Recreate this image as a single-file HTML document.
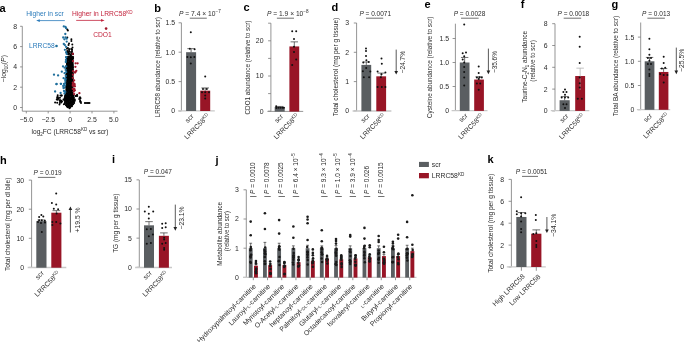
<!DOCTYPE html>
<html><head><meta charset="utf-8"><style>
html,body{margin:0;padding:0;background:#fff;}
svg{display:block;font-family:"Liberation Sans", sans-serif;will-change:transform;}
</style></head><body>
<svg width="685" height="342" viewBox="0 0 685 342" xmlns="http://www.w3.org/2000/svg">
<rect width="685" height="342" fill="#fff"/>
<text x="-0.6" y="11.8" font-size="11" text-anchor="start" fill="#000" font-weight="bold">a</text>
<text x="26.2" y="15.9" font-size="6.7" text-anchor="start" fill="#2b7bba">Higher in scr</text>
<line x1="64.8" y1="20.6" x2="38.36" y2="20.6" stroke="#2b7bba" stroke-width="0.8"/>
<path d="M39.8 19.25 L39.8 21.95 L36.2 20.6 Z" fill="#2b7bba"/>
<text x="71.9" y="16.2" font-size="6.7" text-anchor="start" fill="#c3243d">Higher in LRRC58<tspan font-size="4.6" dy="-2.6">KD</tspan></text>
<line x1="76.2" y1="20.4" x2="102.44" y2="20.4" stroke="#c3243d" stroke-width="0.8"/>
<path d="M101 19.05 L101 21.75 L104.6 20.4 Z" fill="#c3243d"/>
<line x1="22.3" y1="26.3" x2="22.3" y2="111.2" stroke="#7a7a7a" stroke-width="0.8"/>
<line x1="20.1" y1="107.5" x2="22.3" y2="107.5" stroke="#7a7a7a" stroke-width="0.8"/>
<text x="17.1" y="109.98" font-size="6.9" text-anchor="end" fill="#2b2b2b">0</text>
<line x1="20.1" y1="87.2" x2="22.3" y2="87.2" stroke="#7a7a7a" stroke-width="0.8"/>
<text x="17.1" y="89.68" font-size="6.9" text-anchor="end" fill="#2b2b2b">2</text>
<line x1="20.1" y1="66.9" x2="22.3" y2="66.9" stroke="#7a7a7a" stroke-width="0.8"/>
<text x="17.1" y="69.38" font-size="6.9" text-anchor="end" fill="#2b2b2b">4</text>
<line x1="20.1" y1="46.6" x2="22.3" y2="46.6" stroke="#7a7a7a" stroke-width="0.8"/>
<text x="17.1" y="49.08" font-size="6.9" text-anchor="end" fill="#2b2b2b">6</text>
<line x1="20.1" y1="26.3" x2="22.3" y2="26.3" stroke="#7a7a7a" stroke-width="0.8"/>
<text x="17.1" y="28.78" font-size="6.9" text-anchor="end" fill="#2b2b2b">8</text>
<line x1="22.3" y1="111.2" x2="117.5" y2="111.2" stroke="#7a7a7a" stroke-width="0.8"/>
<line x1="26.3" y1="111.2" x2="26.3" y2="113.4" stroke="#7a7a7a" stroke-width="0.8"/>
<text x="26.3" y="122.3" font-size="6.9" text-anchor="middle" fill="#2b2b2b">−5.0</text>
<line x1="48.2" y1="111.2" x2="48.2" y2="113.4" stroke="#7a7a7a" stroke-width="0.8"/>
<text x="48.2" y="122.3" font-size="6.9" text-anchor="middle" fill="#2b2b2b">−2.5</text>
<line x1="70.1" y1="111.2" x2="70.1" y2="113.4" stroke="#7a7a7a" stroke-width="0.8"/>
<text x="70.1" y="122.3" font-size="6.9" text-anchor="middle" fill="#2b2b2b">0</text>
<line x1="92" y1="111.2" x2="92" y2="113.4" stroke="#7a7a7a" stroke-width="0.8"/>
<text x="92" y="122.3" font-size="6.9" text-anchor="middle" fill="#2b2b2b">2.5</text>
<line x1="113.9" y1="111.2" x2="113.9" y2="113.4" stroke="#7a7a7a" stroke-width="0.8"/>
<text x="113.9" y="122.3" font-size="6.9" text-anchor="middle" fill="#2b2b2b">5.0</text>
<text x="70" y="134" font-size="6.6" text-anchor="middle" fill="#2b2b2b">log<tspan font-size="4.5" dy="1.6">2</tspan><tspan dy="-1.6">FC (LRRC58</tspan><tspan font-size="4.5" dy="-2.6">KD</tspan><tspan dy="2.6"> vs scr)</tspan></text>
<text x="6.2" y="68.7" font-size="6.9" text-anchor="middle" fill="#2b2b2b" transform="rotate(-90 6.2 68.7)">−log<tspan font-size="4.5" dy="1.6">10</tspan><tspan dy="-1.6">(</tspan><tspan font-style="italic">P</tspan>)</text>
<circle cx="66.99" cy="48.74" r="1" fill="#000"/>
<circle cx="69.07" cy="48.93" r="1" fill="#000"/>
<circle cx="71.19" cy="49.03" r="1" fill="#000"/>
<circle cx="69.14" cy="50.02" r="1" fill="#000"/>
<circle cx="72" cy="49.94" r="1" fill="#000"/>
<circle cx="67.12" cy="51.25" r="1" fill="#000"/>
<circle cx="67.83" cy="51.15" r="1" fill="#000"/>
<circle cx="69.17" cy="51.47" r="1" fill="#000"/>
<circle cx="68.31" cy="52.47" r="1" fill="#000"/>
<circle cx="71.01" cy="52.06" r="1" fill="#000"/>
<circle cx="66.75" cy="53.23" r="1" fill="#000"/>
<circle cx="67.91" cy="53.13" r="1" fill="#000"/>
<circle cx="68.8" cy="53.16" r="1" fill="#000"/>
<circle cx="69.72" cy="53.62" r="1" fill="#000"/>
<circle cx="71.86" cy="53.31" r="1" fill="#000"/>
<circle cx="72.78" cy="53.61" r="1" fill="#000"/>
<circle cx="67.93" cy="54.25" r="1" fill="#000"/>
<circle cx="68.85" cy="54.36" r="1" fill="#000"/>
<circle cx="70.66" cy="54.77" r="1" fill="#000"/>
<circle cx="72.97" cy="54.22" r="1" fill="#000"/>
<circle cx="70.8" cy="55.4" r="1" fill="#000"/>
<circle cx="66.65" cy="56.89" r="1" fill="#000"/>
<circle cx="68.03" cy="56.88" r="1" fill="#000"/>
<circle cx="68.96" cy="56.54" r="1" fill="#000"/>
<circle cx="69.73" cy="56.42" r="1" fill="#000"/>
<circle cx="70.68" cy="56.56" r="1" fill="#000"/>
<circle cx="72.09" cy="56.67" r="1" fill="#000"/>
<circle cx="73.11" cy="56.97" r="1" fill="#000"/>
<circle cx="66.63" cy="57.62" r="1" fill="#000"/>
<circle cx="67.87" cy="58.04" r="1" fill="#000"/>
<circle cx="68.78" cy="57.89" r="1" fill="#000"/>
<circle cx="69.54" cy="57.9" r="1" fill="#000"/>
<circle cx="70.96" cy="57.95" r="1" fill="#000"/>
<circle cx="71.6" cy="57.97" r="1" fill="#000"/>
<circle cx="72.97" cy="58.08" r="1" fill="#000"/>
<circle cx="67.05" cy="59.03" r="1" fill="#000"/>
<circle cx="67.56" cy="58.69" r="1" fill="#000"/>
<circle cx="68.97" cy="58.69" r="1" fill="#000"/>
<circle cx="70.07" cy="58.99" r="1" fill="#000"/>
<circle cx="70.81" cy="58.68" r="1" fill="#000"/>
<circle cx="72.07" cy="58.99" r="1" fill="#000"/>
<circle cx="73.05" cy="58.86" r="1" fill="#000"/>
<circle cx="66.6" cy="59.85" r="1" fill="#000"/>
<circle cx="67.62" cy="60.05" r="1" fill="#000"/>
<circle cx="68.73" cy="59.78" r="1" fill="#000"/>
<circle cx="69.69" cy="59.97" r="1" fill="#000"/>
<circle cx="71.02" cy="59.95" r="1" fill="#000"/>
<circle cx="71.78" cy="60.02" r="1" fill="#000"/>
<circle cx="72.49" cy="59.96" r="1" fill="#000"/>
<circle cx="66.75" cy="61.24" r="1" fill="#000"/>
<circle cx="67.66" cy="61.11" r="1" fill="#000"/>
<circle cx="68.94" cy="60.86" r="1" fill="#000"/>
<circle cx="69.62" cy="60.97" r="1" fill="#000"/>
<circle cx="70.77" cy="61.14" r="1" fill="#000"/>
<circle cx="72.02" cy="61.07" r="1" fill="#000"/>
<circle cx="72.77" cy="61.11" r="1" fill="#000"/>
<circle cx="66.75" cy="62.46" r="1" fill="#000"/>
<circle cx="67.99" cy="62.47" r="1" fill="#000"/>
<circle cx="68.8" cy="62.47" r="1" fill="#000"/>
<circle cx="69.54" cy="61.97" r="1" fill="#000"/>
<circle cx="70.5" cy="62.04" r="1" fill="#000"/>
<circle cx="71.86" cy="62.37" r="1" fill="#000"/>
<circle cx="72.55" cy="62.33" r="1" fill="#000"/>
<circle cx="67.03" cy="63.13" r="1" fill="#000"/>
<circle cx="67.69" cy="63.29" r="1" fill="#000"/>
<circle cx="68.95" cy="63.1" r="1" fill="#000"/>
<circle cx="69.76" cy="63.2" r="1" fill="#000"/>
<circle cx="70.64" cy="63.43" r="1" fill="#000"/>
<circle cx="71.78" cy="63.26" r="1" fill="#000"/>
<circle cx="72.65" cy="63.37" r="1" fill="#000"/>
<circle cx="67.03" cy="64.16" r="1" fill="#000"/>
<circle cx="67.47" cy="64.57" r="1" fill="#000"/>
<circle cx="68.52" cy="64.35" r="1" fill="#000"/>
<circle cx="69.93" cy="64.26" r="1" fill="#000"/>
<circle cx="70.99" cy="64.44" r="1" fill="#000"/>
<circle cx="71.5" cy="64.13" r="1" fill="#000"/>
<circle cx="72.7" cy="64.14" r="1" fill="#000"/>
<circle cx="66.48" cy="65.71" r="1" fill="#000"/>
<circle cx="67.95" cy="65.47" r="1" fill="#000"/>
<circle cx="68.77" cy="65.76" r="1" fill="#000"/>
<circle cx="69.51" cy="65.52" r="1" fill="#000"/>
<circle cx="70.5" cy="65.3" r="1" fill="#000"/>
<circle cx="71.56" cy="65.39" r="1" fill="#000"/>
<circle cx="72.89" cy="65.37" r="1" fill="#000"/>
<circle cx="66.44" cy="66.45" r="1" fill="#000"/>
<circle cx="67.87" cy="66.63" r="1" fill="#000"/>
<circle cx="68.71" cy="66.86" r="1" fill="#000"/>
<circle cx="69.92" cy="66.56" r="1" fill="#000"/>
<circle cx="70.93" cy="66.54" r="1" fill="#000"/>
<circle cx="71.84" cy="66.89" r="1" fill="#000"/>
<circle cx="72.93" cy="66.72" r="1" fill="#000"/>
<circle cx="66.45" cy="67.48" r="1" fill="#000"/>
<circle cx="67.86" cy="67.55" r="1" fill="#000"/>
<circle cx="68.47" cy="67.9" r="1" fill="#000"/>
<circle cx="69.82" cy="67.57" r="1" fill="#000"/>
<circle cx="70.59" cy="67.68" r="1" fill="#000"/>
<circle cx="71.69" cy="67.56" r="1" fill="#000"/>
<circle cx="73" cy="67.73" r="1" fill="#000"/>
<circle cx="66.41" cy="68.73" r="1" fill="#000"/>
<circle cx="67.71" cy="68.62" r="1" fill="#000"/>
<circle cx="68.41" cy="68.66" r="1" fill="#000"/>
<circle cx="69.65" cy="68.53" r="1" fill="#000"/>
<circle cx="70.59" cy="68.64" r="1" fill="#000"/>
<circle cx="71.73" cy="68.95" r="1" fill="#000"/>
<circle cx="72.84" cy="69.03" r="1" fill="#000"/>
<circle cx="66.49" cy="70.03" r="1" fill="#000"/>
<circle cx="67.43" cy="70.1" r="1" fill="#000"/>
<circle cx="68.78" cy="70.04" r="1" fill="#000"/>
<circle cx="69.48" cy="69.91" r="1" fill="#000"/>
<circle cx="70.9" cy="70.08" r="1" fill="#000"/>
<circle cx="71.75" cy="70.14" r="1" fill="#000"/>
<circle cx="72.82" cy="69.74" r="1" fill="#000"/>
<circle cx="66.89" cy="71.04" r="1" fill="#000"/>
<circle cx="67.76" cy="71.11" r="1" fill="#000"/>
<circle cx="68.39" cy="71.18" r="1" fill="#000"/>
<circle cx="69.69" cy="71.02" r="1" fill="#000"/>
<circle cx="70.43" cy="71.14" r="1" fill="#000"/>
<circle cx="71.43" cy="70.86" r="1" fill="#000"/>
<circle cx="72.51" cy="71.14" r="1" fill="#000"/>
<circle cx="66.66" cy="72.21" r="1" fill="#000"/>
<circle cx="67.74" cy="72.19" r="1" fill="#000"/>
<circle cx="68.46" cy="71.95" r="1" fill="#000"/>
<circle cx="69.55" cy="72.14" r="1" fill="#000"/>
<circle cx="70.41" cy="71.96" r="1" fill="#000"/>
<circle cx="71.79" cy="72.21" r="1" fill="#000"/>
<circle cx="72.68" cy="72.08" r="1" fill="#000"/>
<circle cx="66.94" cy="73.46" r="1" fill="#000"/>
<circle cx="67.63" cy="73.39" r="1" fill="#000"/>
<circle cx="68.63" cy="73.06" r="1" fill="#000"/>
<circle cx="69.92" cy="73.03" r="1" fill="#000"/>
<circle cx="70.44" cy="73.21" r="1" fill="#000"/>
<circle cx="71.44" cy="73.39" r="1" fill="#000"/>
<circle cx="72.89" cy="73.32" r="1" fill="#000"/>
<circle cx="66.34" cy="74.3" r="1" fill="#000"/>
<circle cx="67.52" cy="74.08" r="1" fill="#000"/>
<circle cx="68.53" cy="74.5" r="1" fill="#000"/>
<circle cx="69.79" cy="74.5" r="1" fill="#000"/>
<circle cx="70.9" cy="74.43" r="1" fill="#000"/>
<circle cx="71.52" cy="74.22" r="1" fill="#000"/>
<circle cx="72.94" cy="74.35" r="1" fill="#000"/>
<circle cx="66.36" cy="75.16" r="1" fill="#000"/>
<circle cx="67.5" cy="75.66" r="1" fill="#000"/>
<circle cx="68.49" cy="75.41" r="1" fill="#000"/>
<circle cx="69.55" cy="75.67" r="1" fill="#000"/>
<circle cx="70.82" cy="75.48" r="1" fill="#000"/>
<circle cx="71.89" cy="75.43" r="1" fill="#000"/>
<circle cx="72.36" cy="75.54" r="1" fill="#000"/>
<circle cx="66.49" cy="76.23" r="1" fill="#000"/>
<circle cx="67.39" cy="76.48" r="1" fill="#000"/>
<circle cx="68.49" cy="76.64" r="1" fill="#000"/>
<circle cx="69.47" cy="76.59" r="1" fill="#000"/>
<circle cx="70.65" cy="76.44" r="1" fill="#000"/>
<circle cx="71.41" cy="76.32" r="1" fill="#000"/>
<circle cx="72.61" cy="76.33" r="1" fill="#000"/>
<circle cx="66.38" cy="77.42" r="1" fill="#000"/>
<circle cx="67.5" cy="77.35" r="1" fill="#000"/>
<circle cx="68.45" cy="77.64" r="1" fill="#000"/>
<circle cx="69.75" cy="77.55" r="1" fill="#000"/>
<circle cx="70.61" cy="77.53" r="1" fill="#000"/>
<circle cx="71.34" cy="77.47" r="1" fill="#000"/>
<circle cx="72.37" cy="77.6" r="1" fill="#000"/>
<circle cx="66.45" cy="78.55" r="1" fill="#000"/>
<circle cx="67.55" cy="78.97" r="1" fill="#000"/>
<circle cx="68.81" cy="78.41" r="1" fill="#000"/>
<circle cx="69.71" cy="78.94" r="1" fill="#000"/>
<circle cx="70.64" cy="78.4" r="1" fill="#000"/>
<circle cx="71.84" cy="78.9" r="1" fill="#000"/>
<circle cx="72.87" cy="78.55" r="1" fill="#000"/>
<circle cx="66.83" cy="79.93" r="1" fill="#000"/>
<circle cx="67.73" cy="79.77" r="1" fill="#000"/>
<circle cx="68.29" cy="79.97" r="1" fill="#000"/>
<circle cx="69.82" cy="79.89" r="1" fill="#000"/>
<circle cx="70.35" cy="79.65" r="1" fill="#000"/>
<circle cx="71.69" cy="79.57" r="1" fill="#000"/>
<circle cx="72.58" cy="79.85" r="1" fill="#000"/>
<circle cx="66.26" cy="80.78" r="1" fill="#000"/>
<circle cx="67.83" cy="80.99" r="1" fill="#000"/>
<circle cx="68.54" cy="80.74" r="1" fill="#000"/>
<circle cx="69.83" cy="81.02" r="1" fill="#000"/>
<circle cx="70.27" cy="80.9" r="1" fill="#000"/>
<circle cx="71.51" cy="80.75" r="1" fill="#000"/>
<circle cx="72.81" cy="80.74" r="1" fill="#000"/>
<circle cx="66.36" cy="82.18" r="1" fill="#000"/>
<circle cx="67.54" cy="81.82" r="1" fill="#000"/>
<circle cx="68.43" cy="82.19" r="1" fill="#000"/>
<circle cx="69.37" cy="82.16" r="1" fill="#000"/>
<circle cx="70.81" cy="82" r="1" fill="#000"/>
<circle cx="71.37" cy="81.95" r="1" fill="#000"/>
<circle cx="72.81" cy="81.79" r="1" fill="#000"/>
<circle cx="66.31" cy="82.83" r="1" fill="#000"/>
<circle cx="67.46" cy="83.34" r="1" fill="#000"/>
<circle cx="68.66" cy="83.4" r="1" fill="#000"/>
<circle cx="69.42" cy="82.91" r="1" fill="#000"/>
<circle cx="70.67" cy="82.82" r="1" fill="#000"/>
<circle cx="71.45" cy="83.02" r="1" fill="#000"/>
<circle cx="72.33" cy="82.8" r="1" fill="#000"/>
<circle cx="66.79" cy="84.02" r="1" fill="#000"/>
<circle cx="67.7" cy="84.39" r="1" fill="#000"/>
<circle cx="68.24" cy="84.18" r="1" fill="#000"/>
<circle cx="69.76" cy="84.02" r="1" fill="#000"/>
<circle cx="70.75" cy="83.92" r="1" fill="#000"/>
<circle cx="71.7" cy="84.36" r="1" fill="#000"/>
<circle cx="72.23" cy="83.94" r="1" fill="#000"/>
<circle cx="66.73" cy="85.2" r="1" fill="#000"/>
<circle cx="67.76" cy="85.37" r="1" fill="#000"/>
<circle cx="68.62" cy="85.19" r="1" fill="#000"/>
<circle cx="69.19" cy="85.45" r="1" fill="#000"/>
<circle cx="70.57" cy="85.57" r="1" fill="#000"/>
<circle cx="71.33" cy="85.29" r="1" fill="#000"/>
<circle cx="72.76" cy="85.23" r="1" fill="#000"/>
<circle cx="66.26" cy="86.58" r="1" fill="#000"/>
<circle cx="67.64" cy="86.56" r="1" fill="#000"/>
<circle cx="68.34" cy="86.29" r="1" fill="#000"/>
<circle cx="69.62" cy="86.15" r="1" fill="#000"/>
<circle cx="70.6" cy="86.25" r="1" fill="#000"/>
<circle cx="71.17" cy="86.43" r="1" fill="#000"/>
<circle cx="72.74" cy="86.63" r="1" fill="#000"/>
<circle cx="66.16" cy="87.5" r="1" fill="#000"/>
<circle cx="67.37" cy="87.34" r="1" fill="#000"/>
<circle cx="68.48" cy="87.6" r="1" fill="#000"/>
<circle cx="69.61" cy="87.6" r="1" fill="#000"/>
<circle cx="70.61" cy="87.38" r="1" fill="#000"/>
<circle cx="71.33" cy="87.64" r="1" fill="#000"/>
<circle cx="72.25" cy="87.35" r="1" fill="#000"/>
<circle cx="66.3" cy="88.9" r="1" fill="#000"/>
<circle cx="67.2" cy="88.79" r="1" fill="#000"/>
<circle cx="68.66" cy="88.36" r="1" fill="#000"/>
<circle cx="69.56" cy="88.8" r="1" fill="#000"/>
<circle cx="70.09" cy="88.48" r="1" fill="#000"/>
<circle cx="71.18" cy="88.88" r="1" fill="#000"/>
<circle cx="72.62" cy="88.52" r="1" fill="#000"/>
<circle cx="66.49" cy="89.97" r="1" fill="#000"/>
<circle cx="67.38" cy="89.77" r="1" fill="#000"/>
<circle cx="68.24" cy="89.48" r="1" fill="#000"/>
<circle cx="69.18" cy="89.76" r="1" fill="#000"/>
<circle cx="70.15" cy="89.41" r="1" fill="#000"/>
<circle cx="71.43" cy="89.51" r="1" fill="#000"/>
<circle cx="72.15" cy="89.88" r="1" fill="#000"/>
<circle cx="66.31" cy="90.88" r="1" fill="#000"/>
<circle cx="67.08" cy="90.92" r="1" fill="#000"/>
<circle cx="68.15" cy="90.68" r="1" fill="#000"/>
<circle cx="69.17" cy="90.84" r="1" fill="#000"/>
<circle cx="70.23" cy="91.02" r="1" fill="#000"/>
<circle cx="71.2" cy="90.62" r="1" fill="#000"/>
<circle cx="72.1" cy="90.5" r="1" fill="#000"/>
<circle cx="66.18" cy="92.13" r="1" fill="#000"/>
<circle cx="67.04" cy="91.61" r="1" fill="#000"/>
<circle cx="68.33" cy="92.15" r="1" fill="#000"/>
<circle cx="69.31" cy="91.82" r="1" fill="#000"/>
<circle cx="70.03" cy="91.77" r="1" fill="#000"/>
<circle cx="71.5" cy="91.67" r="1" fill="#000"/>
<circle cx="72.42" cy="92.18" r="1" fill="#000"/>
<circle cx="66.19" cy="92.73" r="1" fill="#000"/>
<circle cx="67.13" cy="93.24" r="1" fill="#000"/>
<circle cx="68.39" cy="92.8" r="1" fill="#000"/>
<circle cx="69.03" cy="92.94" r="1" fill="#000"/>
<circle cx="70.4" cy="92.81" r="1" fill="#000"/>
<circle cx="71.14" cy="93.01" r="1" fill="#000"/>
<circle cx="71.97" cy="92.85" r="1" fill="#000"/>
<circle cx="65.83" cy="94.25" r="1" fill="#000"/>
<circle cx="67" cy="93.87" r="1" fill="#000"/>
<circle cx="67.83" cy="94.18" r="1" fill="#000"/>
<circle cx="68.75" cy="94.15" r="1" fill="#000"/>
<circle cx="69.89" cy="94.07" r="1" fill="#000"/>
<circle cx="70.51" cy="94.17" r="1" fill="#000"/>
<circle cx="71.64" cy="94.26" r="1" fill="#000"/>
<circle cx="72.77" cy="93.91" r="1" fill="#000"/>
<circle cx="65.15" cy="95.17" r="1" fill="#000"/>
<circle cx="66.12" cy="95.28" r="1" fill="#000"/>
<circle cx="67.53" cy="95.37" r="1" fill="#000"/>
<circle cx="68.13" cy="95.2" r="1" fill="#000"/>
<circle cx="69.66" cy="94.98" r="1" fill="#000"/>
<circle cx="70.69" cy="95.34" r="1" fill="#000"/>
<circle cx="71.21" cy="95.49" r="1" fill="#000"/>
<circle cx="72.67" cy="95.45" r="1" fill="#000"/>
<circle cx="73.57" cy="95.46" r="1" fill="#000"/>
<circle cx="64.97" cy="96.45" r="1" fill="#000"/>
<circle cx="66.3" cy="96.16" r="1" fill="#000"/>
<circle cx="66.85" cy="96.3" r="1" fill="#000"/>
<circle cx="67.89" cy="96.16" r="1" fill="#000"/>
<circle cx="68.95" cy="96.02" r="1" fill="#000"/>
<circle cx="69.86" cy="96.56" r="1" fill="#000"/>
<circle cx="71.3" cy="96.1" r="1" fill="#000"/>
<circle cx="71.83" cy="96.32" r="1" fill="#000"/>
<circle cx="72.98" cy="96.52" r="1" fill="#000"/>
<circle cx="64.97" cy="97.63" r="1" fill="#000"/>
<circle cx="66.22" cy="97.48" r="1" fill="#000"/>
<circle cx="67.1" cy="97.26" r="1" fill="#000"/>
<circle cx="67.97" cy="97.32" r="1" fill="#000"/>
<circle cx="68.89" cy="97.21" r="1" fill="#000"/>
<circle cx="69.65" cy="97.59" r="1" fill="#000"/>
<circle cx="71.01" cy="97.69" r="1" fill="#000"/>
<circle cx="72.02" cy="97.29" r="1" fill="#000"/>
<circle cx="72.65" cy="97.19" r="1" fill="#000"/>
<circle cx="73.88" cy="97.41" r="1" fill="#000"/>
<circle cx="64.57" cy="98.34" r="1" fill="#000"/>
<circle cx="65.5" cy="98.2" r="1" fill="#000"/>
<circle cx="66.55" cy="98.41" r="1" fill="#000"/>
<circle cx="67.84" cy="98.55" r="1" fill="#000"/>
<circle cx="68.86" cy="98.48" r="1" fill="#000"/>
<circle cx="70.05" cy="98.35" r="1" fill="#000"/>
<circle cx="70.54" cy="98.58" r="1" fill="#000"/>
<circle cx="71.96" cy="98.44" r="1" fill="#000"/>
<circle cx="72.49" cy="98.59" r="1" fill="#000"/>
<circle cx="73.7" cy="98.59" r="1" fill="#000"/>
<circle cx="64.91" cy="99.74" r="1" fill="#000"/>
<circle cx="65.89" cy="99.33" r="1" fill="#000"/>
<circle cx="66.59" cy="99.44" r="1" fill="#000"/>
<circle cx="67.82" cy="99.31" r="1" fill="#000"/>
<circle cx="68.91" cy="99.39" r="1" fill="#000"/>
<circle cx="69.71" cy="99.6" r="1" fill="#000"/>
<circle cx="70.84" cy="99.4" r="1" fill="#000"/>
<circle cx="71.53" cy="99.33" r="1" fill="#000"/>
<circle cx="72.82" cy="99.73" r="1" fill="#000"/>
<circle cx="73.86" cy="99.75" r="1" fill="#000"/>
<circle cx="74.8" cy="99.57" r="1" fill="#000"/>
<circle cx="64.49" cy="100.54" r="1" fill="#000"/>
<circle cx="65.62" cy="100.85" r="1" fill="#000"/>
<circle cx="66.93" cy="100.83" r="1" fill="#000"/>
<circle cx="67.75" cy="100.66" r="1" fill="#000"/>
<circle cx="68.74" cy="100.56" r="1" fill="#000"/>
<circle cx="70" cy="100.53" r="1" fill="#000"/>
<circle cx="70.43" cy="100.56" r="1" fill="#000"/>
<circle cx="71.87" cy="100.97" r="1" fill="#000"/>
<circle cx="72.62" cy="100.93" r="1" fill="#000"/>
<circle cx="73.57" cy="100.94" r="1" fill="#000"/>
<circle cx="74.84" cy="100.8" r="1" fill="#000"/>
<circle cx="64.9" cy="102" r="1" fill="#000"/>
<circle cx="66.13" cy="101.76" r="1" fill="#000"/>
<circle cx="66.96" cy="101.68" r="1" fill="#000"/>
<circle cx="67.99" cy="101.55" r="1" fill="#000"/>
<circle cx="68.7" cy="101.52" r="1" fill="#000"/>
<circle cx="70.17" cy="101.71" r="1" fill="#000"/>
<circle cx="70.63" cy="101.52" r="1" fill="#000"/>
<circle cx="72" cy="101.92" r="1" fill="#000"/>
<circle cx="72.65" cy="101.85" r="1" fill="#000"/>
<circle cx="74.11" cy="101.99" r="1" fill="#000"/>
<circle cx="64.85" cy="103.12" r="1" fill="#000"/>
<circle cx="66.37" cy="102.66" r="1" fill="#000"/>
<circle cx="66.87" cy="102.62" r="1" fill="#000"/>
<circle cx="68.29" cy="102.98" r="1" fill="#000"/>
<circle cx="69.19" cy="102.77" r="1" fill="#000"/>
<circle cx="69.87" cy="103.05" r="1" fill="#000"/>
<circle cx="71" cy="102.85" r="1" fill="#000"/>
<circle cx="71.96" cy="102.77" r="1" fill="#000"/>
<circle cx="73.03" cy="102.79" r="1" fill="#000"/>
<circle cx="74.11" cy="103.11" r="1" fill="#000"/>
<circle cx="65.02" cy="103.95" r="1" fill="#000"/>
<circle cx="66.46" cy="103.91" r="1" fill="#000"/>
<circle cx="67.32" cy="103.83" r="1" fill="#000"/>
<circle cx="68.05" cy="104.19" r="1" fill="#000"/>
<circle cx="69" cy="103.82" r="1" fill="#000"/>
<circle cx="70.59" cy="103.7" r="1" fill="#000"/>
<circle cx="71.29" cy="104.18" r="1" fill="#000"/>
<circle cx="72.3" cy="103.91" r="1" fill="#000"/>
<circle cx="73.16" cy="104.27" r="1" fill="#000"/>
<circle cx="65.97" cy="105.22" r="1" fill="#000"/>
<circle cx="66.91" cy="105.18" r="1" fill="#000"/>
<circle cx="68.32" cy="105.22" r="1" fill="#000"/>
<circle cx="69.22" cy="105.01" r="1" fill="#000"/>
<circle cx="70.08" cy="105.33" r="1" fill="#000"/>
<circle cx="71.38" cy="104.82" r="1" fill="#000"/>
<circle cx="72" cy="105.34" r="1" fill="#000"/>
<circle cx="66.91" cy="106.43" r="1" fill="#000"/>
<circle cx="67.96" cy="106.22" r="1" fill="#000"/>
<circle cx="69.14" cy="106.29" r="1" fill="#000"/>
<circle cx="69.88" cy="105.99" r="1" fill="#000"/>
<circle cx="71.08" cy="106.35" r="1" fill="#000"/>
<circle cx="71.95" cy="106.36" r="1" fill="#000"/>
<circle cx="67.82" cy="107.28" r="1" fill="#000"/>
<circle cx="68.88" cy="107.11" r="1" fill="#000"/>
<circle cx="70.16" cy="107.51" r="1" fill="#000"/>
<circle cx="69.45" cy="108.25" r="1" fill="#000"/>
<circle cx="67.3" cy="29.4" r="1" fill="#000"/>
<circle cx="67.9" cy="30.5" r="1" fill="#000"/>
<circle cx="67.3" cy="37.5" r="1" fill="#000"/>
<circle cx="71.4" cy="39.3" r="1" fill="#000"/>
<circle cx="71.4" cy="41" r="1" fill="#000"/>
<circle cx="69" cy="43.4" r="1" fill="#000"/>
<circle cx="72.3" cy="44.6" r="1" fill="#000"/>
<circle cx="68.5" cy="45.1" r="1" fill="#000"/>
<circle cx="72.5" cy="47.5" r="1" fill="#000"/>
<circle cx="67.9" cy="48.1" r="1" fill="#000"/>
<circle cx="72" cy="49.2" r="1" fill="#000"/>
<circle cx="67.3" cy="51.6" r="1" fill="#000"/>
<circle cx="72" cy="51.6" r="1" fill="#000"/>
<circle cx="67.9" cy="53.9" r="1" fill="#000"/>
<circle cx="70.8" cy="55.1" r="1" fill="#000"/>
<circle cx="68.5" cy="57.4" r="1" fill="#000"/>
<circle cx="71.4" cy="57.4" r="1" fill="#000"/>
<circle cx="69.6" cy="58.6" r="1" fill="#000"/>
<circle cx="55.1" cy="102.6" r="1" fill="#000"/>
<circle cx="59.5" cy="104.4" r="1" fill="#000"/>
<circle cx="57.3" cy="96.9" r="1" fill="#000"/>
<circle cx="58.5" cy="98.5" r="1" fill="#000"/>
<circle cx="60" cy="100.5" r="1" fill="#000"/>
<circle cx="76.1" cy="96" r="1" fill="#000"/>
<circle cx="79.2" cy="99.1" r="1" fill="#000"/>
<circle cx="80.1" cy="101.7" r="1" fill="#000"/>
<circle cx="84.9" cy="103" r="1" fill="#000"/>
<circle cx="86" cy="103" r="1" fill="#000"/>
<circle cx="87.2" cy="103" r="1" fill="#000"/>
<circle cx="88.4" cy="103" r="1" fill="#000"/>
<circle cx="89.5" cy="103" r="1" fill="#000"/>
<circle cx="61.5" cy="95.5" r="1" fill="#000"/>
<circle cx="62" cy="101.5" r="1" fill="#000"/>
<circle cx="59.89" cy="100.32" r="1" fill="#000"/>
<circle cx="63.43" cy="99.42" r="1" fill="#000"/>
<circle cx="60.31" cy="100.58" r="1" fill="#000"/>
<circle cx="57.88" cy="99.86" r="1" fill="#000"/>
<circle cx="61.22" cy="102.53" r="1" fill="#000"/>
<circle cx="57.21" cy="97.88" r="1" fill="#000"/>
<circle cx="57.18" cy="102.69" r="1" fill="#000"/>
<circle cx="61.7" cy="95.4" r="1" fill="#000"/>
<circle cx="63.87" cy="104.17" r="1" fill="#000"/>
<circle cx="61.4" cy="100.85" r="1" fill="#000"/>
<circle cx="57.68" cy="95.14" r="1" fill="#000"/>
<circle cx="60.46" cy="95.57" r="1" fill="#000"/>
<circle cx="57.93" cy="97.3" r="1" fill="#000"/>
<circle cx="56.73" cy="99.41" r="1" fill="#000"/>
<circle cx="59.8" cy="103" r="1" fill="#000"/>
<circle cx="60.39" cy="101.08" r="1" fill="#000"/>
<circle cx="60.25" cy="101.29" r="1" fill="#000"/>
<circle cx="59.93" cy="97.64" r="1" fill="#000"/>
<circle cx="80.99" cy="102.96" r="1" fill="#000"/>
<circle cx="80.12" cy="100.37" r="1" fill="#000"/>
<circle cx="77.23" cy="96.07" r="1" fill="#000"/>
<circle cx="77.09" cy="94.63" r="1" fill="#000"/>
<circle cx="79.71" cy="97.6" r="1" fill="#000"/>
<circle cx="80.16" cy="97.48" r="1" fill="#000"/>
<circle cx="80.77" cy="101.63" r="1" fill="#000"/>
<circle cx="75.5" cy="95.89" r="1" fill="#000"/>
<circle cx="80.51" cy="98.23" r="1" fill="#000"/>
<circle cx="65.97" cy="60" r="1.15" fill="#1f6f9c"/>
<circle cx="64.57" cy="67.7" r="1.15" fill="#1f6f9c"/>
<circle cx="65.71" cy="69.9" r="1.15" fill="#1f6f9c"/>
<circle cx="64.6" cy="73.2" r="1.15" fill="#1f6f9c"/>
<circle cx="65.57" cy="78.7" r="1.15" fill="#1f6f9c"/>
<circle cx="65.28" cy="80.9" r="1.15" fill="#1f6f9c"/>
<circle cx="65.23" cy="83.1" r="1.15" fill="#1f6f9c"/>
<circle cx="65.09" cy="85.3" r="1.15" fill="#1f6f9c"/>
<circle cx="64.37" cy="87.5" r="1.15" fill="#1f6f9c"/>
<circle cx="65.26" cy="91.9" r="1.15" fill="#1f6f9c"/>
<circle cx="63.8" cy="26.4" r="1.15" fill="#1f6f9c"/>
<circle cx="65.5" cy="27" r="1.15" fill="#1f6f9c"/>
<circle cx="66.1" cy="28.2" r="1.15" fill="#1f6f9c"/>
<circle cx="65.3" cy="34" r="1.15" fill="#1f6f9c"/>
<circle cx="63.2" cy="37.5" r="1.15" fill="#1f6f9c"/>
<circle cx="65.5" cy="37.5" r="1.15" fill="#1f6f9c"/>
<circle cx="64.4" cy="39.3" r="1.15" fill="#1f6f9c"/>
<circle cx="66.7" cy="38.7" r="1.15" fill="#1f6f9c"/>
<circle cx="66.7" cy="41.6" r="1.15" fill="#1f6f9c"/>
<circle cx="63.8" cy="44" r="1.15" fill="#1f6f9c"/>
<circle cx="64.9" cy="45.1" r="1.15" fill="#1f6f9c"/>
<circle cx="66.1" cy="46.9" r="1.15" fill="#1f6f9c"/>
<circle cx="64.9" cy="49.8" r="1.15" fill="#1f6f9c"/>
<circle cx="66.1" cy="52.2" r="1.15" fill="#1f6f9c"/>
<circle cx="66.7" cy="53.9" r="1.15" fill="#1f6f9c"/>
<circle cx="66.1" cy="57.4" r="1.15" fill="#1f6f9c"/>
<circle cx="66.2" cy="57.2" r="1.15" fill="#1f6f9c"/>
<circle cx="65.8" cy="62" r="1.15" fill="#1f6f9c"/>
<circle cx="63" cy="66.4" r="1.15" fill="#1f6f9c"/>
<circle cx="66.2" cy="66.4" r="1.15" fill="#1f6f9c"/>
<circle cx="61.8" cy="71.7" r="1.15" fill="#1f6f9c"/>
<circle cx="66.2" cy="72.1" r="1.15" fill="#1f6f9c"/>
<circle cx="54" cy="74.7" r="1.15" fill="#1f6f9c"/>
<circle cx="58.1" cy="75.4" r="1.15" fill="#1f6f9c"/>
<circle cx="65.8" cy="76" r="1.15" fill="#1f6f9c"/>
<circle cx="63.6" cy="78.2" r="1.15" fill="#1f6f9c"/>
<circle cx="65.4" cy="79.6" r="1.15" fill="#1f6f9c"/>
<circle cx="56.6" cy="84" r="1.15" fill="#1f6f9c"/>
<circle cx="61" cy="83.8" r="1.15" fill="#1f6f9c"/>
<circle cx="64" cy="84" r="1.15" fill="#1f6f9c"/>
<circle cx="56.4" cy="84.2" r="1.15" fill="#1f6f9c"/>
<circle cx="60.8" cy="83.8" r="1.15" fill="#1f6f9c"/>
<circle cx="55.1" cy="91.5" r="1.15" fill="#1f6f9c"/>
<circle cx="60.6" cy="93" r="1.15" fill="#1f6f9c"/>
<circle cx="63.5" cy="88" r="1.15" fill="#1f6f9c"/>
<circle cx="64" cy="91" r="1.15" fill="#1f6f9c"/>
<circle cx="63.2" cy="86" r="1.15" fill="#1f6f9c"/>
<circle cx="64.5" cy="93.5" r="1.15" fill="#1f6f9c"/>
<circle cx="75.62" cy="63.3" r="1.15" fill="#a0182b"/>
<circle cx="75.49" cy="72.1" r="1.15" fill="#a0182b"/>
<circle cx="73.84" cy="89.7" r="1.15" fill="#a0182b"/>
<circle cx="74.14" cy="94.1" r="1.15" fill="#a0182b"/>
<circle cx="72.8" cy="53.9" r="1.15" fill="#a0182b"/>
<circle cx="73" cy="61.1" r="1.15" fill="#a0182b"/>
<circle cx="77.6" cy="63.3" r="1.15" fill="#a0182b"/>
<circle cx="75.4" cy="66.8" r="1.15" fill="#a0182b"/>
<circle cx="76.3" cy="70.8" r="1.15" fill="#a0182b"/>
<circle cx="73.2" cy="71.2" r="1.15" fill="#a0182b"/>
<circle cx="75" cy="72.5" r="1.15" fill="#a0182b"/>
<circle cx="73" cy="74.7" r="1.15" fill="#a0182b"/>
<circle cx="72.8" cy="77.8" r="1.15" fill="#a0182b"/>
<circle cx="74.1" cy="80.4" r="1.15" fill="#a0182b"/>
<circle cx="73.2" cy="83" r="1.15" fill="#a0182b"/>
<circle cx="79.4" cy="93.2" r="1.15" fill="#a0182b"/>
<circle cx="74" cy="86" r="1.15" fill="#a0182b"/>
<circle cx="74.3" cy="89" r="1.15" fill="#a0182b"/>
<circle cx="73.8" cy="91.5" r="1.15" fill="#a0182b"/>
<circle cx="74.95" cy="86.37" r="1.15" fill="#a0182b"/>
<circle cx="72.78" cy="88.92" r="1.15" fill="#a0182b"/>
<circle cx="74.47" cy="84.97" r="1.15" fill="#a0182b"/>
<circle cx="72.81" cy="85.66" r="1.15" fill="#a0182b"/>
<circle cx="74.91" cy="90.34" r="1.15" fill="#a0182b"/>
<circle cx="72.88" cy="84.71" r="1.15" fill="#a0182b"/>
<circle cx="72.84" cy="82.66" r="1.15" fill="#a0182b"/>
<circle cx="74.51" cy="83.95" r="1.15" fill="#a0182b"/>
<text x="29" y="48.1" font-size="6.7" text-anchor="start" fill="#2b7bba">LRRC58</text>
<circle cx="56.5" cy="46" r="1.3" fill="#1f6f9c"/>
<text x="93.2" y="36.9" font-size="6.7" text-anchor="start" fill="#c3243d">CDO1</text>
<circle cx="106.1" cy="28.6" r="1.3" fill="#a0182b"/>
<text x="154.2" y="11.8" font-size="11" text-anchor="start" fill="#000" font-weight="bold">b</text>
<line x1="181.4" y1="22.8" x2="181.4" y2="110.8" stroke="#7a7a7a" stroke-width="0.8"/>
<line x1="178.6" y1="111" x2="181.4" y2="111" stroke="#7a7a7a" stroke-width="0.8"/>
<text x="175.1" y="113.48" font-size="6.9" text-anchor="end" fill="#2b2b2b">0</text>
<line x1="178.6" y1="81.6" x2="181.4" y2="81.6" stroke="#7a7a7a" stroke-width="0.8"/>
<text x="175.1" y="84.08" font-size="6.9" text-anchor="end" fill="#2b2b2b">0.5</text>
<line x1="178.6" y1="52.2" x2="181.4" y2="52.2" stroke="#7a7a7a" stroke-width="0.8"/>
<text x="175.1" y="54.68" font-size="6.9" text-anchor="end" fill="#2b2b2b">1.0</text>
<line x1="178.6" y1="22.8" x2="181.4" y2="22.8" stroke="#7a7a7a" stroke-width="0.8"/>
<text x="175.1" y="25.28" font-size="6.9" text-anchor="end" fill="#2b2b2b">1.5</text>
<line x1="178.2" y1="110.8" x2="214.8" y2="110.8" stroke="#c9c9c9" stroke-width="1.3"/>
<rect x="186.1" y="52.2" width="10" height="58.8" fill="#5a5e61"/>
<line x1="191.1" y1="48.67" x2="191.1" y2="52.2" stroke="#333" stroke-width="0.7"/>
<line x1="187.3" y1="48.67" x2="194.9" y2="48.67" stroke="#333" stroke-width="0.7"/>
<rect x="200.2" y="90.66" width="10" height="20.34" fill="#981526"/>
<line x1="205.2" y1="87.95" x2="205.2" y2="90.66" stroke="#333" stroke-width="0.7"/>
<line x1="201.4" y1="87.95" x2="209" y2="87.95" stroke="#333" stroke-width="0.7"/>
<circle cx="190.8" cy="32.2" r="1" fill="#111"/>
<circle cx="189.8" cy="48.8" r="1" fill="#111"/>
<circle cx="194.6" cy="49.2" r="1" fill="#111"/>
<circle cx="187.4" cy="57" r="1" fill="#111"/>
<circle cx="190.8" cy="57.2" r="1" fill="#111"/>
<circle cx="194.4" cy="57" r="1" fill="#111"/>
<circle cx="190.8" cy="63.4" r="1" fill="#111"/>
<circle cx="205.2" cy="76.4" r="1" fill="#111"/>
<circle cx="203" cy="89" r="1" fill="#111"/>
<circle cx="206.8" cy="89" r="1" fill="#111"/>
<circle cx="202" cy="92.2" r="1" fill="#111"/>
<circle cx="205.2" cy="92.2" r="1" fill="#111"/>
<circle cx="209" cy="92.2" r="1" fill="#111"/>
<circle cx="205.2" cy="95.4" r="1" fill="#111"/>
<circle cx="205.2" cy="98.5" r="1" fill="#111"/>
<text x="179" y="16" font-size="6.7" text-anchor="start" fill="#2b2b2b"><tspan font-style="italic">P</tspan> = 7.4 × 10<tspan font-size="4.6" dy="-2.9">−7</tspan></text>
<line x1="189.8" y1="18.2" x2="206.8" y2="18.2" stroke="#333" stroke-width="0.7"/>
<text x="194.2" y="116.7" font-size="6.85" text-anchor="end" fill="#2b2b2b" transform="rotate(-45 194.2 116.7)">scr</text>
<text x="210.2" y="116.6" font-size="6.85" text-anchor="end" fill="#2b2b2b" transform="rotate(-45 210.2 116.6)">LRRC58<tspan font-size="4.6" dy="-2.6">KD</tspan></text>
<text x="159.98" y="117.15" font-size="6.6" text-anchor="start" fill="#2b2b2b" transform="rotate(-90 159.98 117.15)" textLength="100.1" lengthAdjust="spacingAndGlyphs">LRRC58 abundance (relative to scr)</text>
<text x="243.4" y="10.7" font-size="11" text-anchor="start" fill="#000" font-weight="bold">c</text>
<line x1="270.9" y1="23.2" x2="270.9" y2="111.4" stroke="#7a7a7a" stroke-width="0.8"/>
<line x1="268.1" y1="111.2" x2="270.9" y2="111.2" stroke="#7a7a7a" stroke-width="0.8"/>
<text x="263.5" y="113.68" font-size="6.9" text-anchor="end" fill="#2b2b2b">0</text>
<line x1="268.1" y1="93.6" x2="270.9" y2="93.6" stroke="#7a7a7a" stroke-width="0.8"/>
<line x1="268.1" y1="76" x2="270.9" y2="76" stroke="#7a7a7a" stroke-width="0.8"/>
<text x="263.5" y="78.48" font-size="6.9" text-anchor="end" fill="#2b2b2b">10</text>
<line x1="268.1" y1="58.4" x2="270.9" y2="58.4" stroke="#7a7a7a" stroke-width="0.8"/>
<line x1="268.1" y1="40.8" x2="270.9" y2="40.8" stroke="#7a7a7a" stroke-width="0.8"/>
<text x="263.5" y="43.28" font-size="6.9" text-anchor="end" fill="#2b2b2b">20</text>
<line x1="268.1" y1="23.2" x2="270.9" y2="23.2" stroke="#7a7a7a" stroke-width="0.8"/>
<line x1="267.4" y1="111.4" x2="303.2" y2="111.4" stroke="#8a8a8a" stroke-width="0.9"/>
<rect x="274.7" y="106.98" width="10" height="4.62" fill="#5a5e61"/>
<line x1="279.7" y1="106.45" x2="279.7" y2="106.98" stroke="#333" stroke-width="0.7"/>
<line x1="275.9" y1="106.45" x2="283.5" y2="106.45" stroke="#333" stroke-width="0.7"/>
<rect x="289.4" y="46.43" width="9.8" height="65.17" fill="#981526"/>
<line x1="294.3" y1="41.86" x2="294.3" y2="46.43" stroke="#333" stroke-width="0.7"/>
<line x1="290.58" y1="41.86" x2="298.02" y2="41.86" stroke="#333" stroke-width="0.7"/>
<circle cx="276.2" cy="106.2" r="1" fill="#111"/>
<circle cx="276.4" cy="107.9" r="1" fill="#111"/>
<circle cx="278.4" cy="107.8" r="1" fill="#111"/>
<circle cx="280.4" cy="107.8" r="1" fill="#111"/>
<circle cx="282.4" cy="107.8" r="1" fill="#111"/>
<circle cx="283.9" cy="107.7" r="1" fill="#111"/>
<circle cx="292.2" cy="31.2" r="1" fill="#111"/>
<circle cx="296.2" cy="31.2" r="1" fill="#111"/>
<circle cx="294" cy="39" r="1" fill="#111"/>
<circle cx="294" cy="46.7" r="1" fill="#111"/>
<circle cx="294" cy="52" r="1" fill="#111"/>
<circle cx="296.2" cy="59.6" r="1" fill="#111"/>
<circle cx="292.2" cy="64.9" r="1" fill="#111"/>
<text x="266.9" y="16" font-size="6.7" text-anchor="start" fill="#2b2b2b"><tspan font-style="italic">P</tspan> = 1.9 × 10<tspan font-size="4.6" dy="-2.9">−8</tspan></text>
<line x1="276.9" y1="18.2" x2="294" y2="18.2" stroke="#333" stroke-width="0.7"/>
<text x="283.6" y="116.9" font-size="6.85" text-anchor="end" fill="#2b2b2b" transform="rotate(-45 283.6 116.9)">scr</text>
<text x="299.5" y="116.6" font-size="6.85" text-anchor="end" fill="#2b2b2b" transform="rotate(-45 299.5 116.6)">LRRC58<tspan font-size="4.6" dy="-2.6">KD</tspan></text>
<text x="249.68" y="114.45" font-size="6.6" text-anchor="start" fill="#2b2b2b" transform="rotate(-90 249.68 114.45)" textLength="93.9" lengthAdjust="spacingAndGlyphs">CDO1 abundance (relative to scr)</text>
<text x="331.6" y="10.7" font-size="11" text-anchor="start" fill="#000" font-weight="bold">d</text>
<line x1="356.6" y1="23" x2="356.6" y2="111" stroke="#7a7a7a" stroke-width="0.8"/>
<line x1="353.8" y1="110.9" x2="356.6" y2="110.9" stroke="#7a7a7a" stroke-width="0.8"/>
<text x="349.2" y="113.38" font-size="6.9" text-anchor="end" fill="#2b2b2b">0</text>
<line x1="353.8" y1="81.6" x2="356.6" y2="81.6" stroke="#7a7a7a" stroke-width="0.8"/>
<text x="349.2" y="84.08" font-size="6.9" text-anchor="end" fill="#2b2b2b">1</text>
<line x1="353.8" y1="52.3" x2="356.6" y2="52.3" stroke="#7a7a7a" stroke-width="0.8"/>
<text x="349.2" y="54.78" font-size="6.9" text-anchor="end" fill="#2b2b2b">2</text>
<line x1="353.8" y1="23" x2="356.6" y2="23" stroke="#7a7a7a" stroke-width="0.8"/>
<text x="349.2" y="25.48" font-size="6.9" text-anchor="end" fill="#2b2b2b">3</text>
<line x1="352.6" y1="111" x2="391.4" y2="111" stroke="#c9c9c9" stroke-width="1.3"/>
<rect x="361.4" y="64.9" width="9.8" height="46.3" fill="#5a5e61"/>
<line x1="366.3" y1="61.97" x2="366.3" y2="64.9" stroke="#333" stroke-width="0.7"/>
<line x1="362.58" y1="61.97" x2="370.02" y2="61.97" stroke="#333" stroke-width="0.7"/>
<rect x="376.3" y="76.33" width="9.8" height="34.87" fill="#981526"/>
<line x1="381.2" y1="73.1" x2="381.2" y2="76.33" stroke="#333" stroke-width="0.7"/>
<line x1="377.48" y1="73.1" x2="384.92" y2="73.1" stroke="#333" stroke-width="0.7"/>
<circle cx="366" cy="48.6" r="1" fill="#111"/>
<circle cx="366" cy="50.9" r="1" fill="#111"/>
<circle cx="366" cy="56.1" r="1" fill="#111"/>
<circle cx="366.4" cy="60.3" r="1" fill="#111"/>
<circle cx="363.3" cy="62.5" r="1" fill="#111"/>
<circle cx="368.6" cy="61.9" r="1" fill="#111"/>
<circle cx="362.9" cy="71.2" r="1" fill="#111"/>
<circle cx="370.3" cy="71.6" r="1" fill="#111"/>
<circle cx="363.8" cy="77.2" r="1" fill="#111"/>
<circle cx="369.1" cy="77.2" r="1" fill="#111"/>
<circle cx="366.2" cy="68" r="1" fill="#111"/>
<circle cx="381.5" cy="58.4" r="1" fill="#111"/>
<circle cx="381.8" cy="63.7" r="1" fill="#111"/>
<circle cx="377.6" cy="71.6" r="1" fill="#111"/>
<circle cx="385.4" cy="72.5" r="1" fill="#111"/>
<circle cx="381.5" cy="74.3" r="1" fill="#111"/>
<circle cx="380.9" cy="77.2" r="1" fill="#111"/>
<circle cx="377.6" cy="87" r="1" fill="#111"/>
<circle cx="381.8" cy="87" r="1" fill="#111"/>
<circle cx="385.4" cy="87" r="1" fill="#111"/>
<text x="359.4" y="16" font-size="6.5" text-anchor="start" fill="#2b2b2b"><tspan font-style="italic">P</tspan> = 0.0071</text>
<line x1="366" y1="18.2" x2="383.2" y2="18.2" stroke="#333" stroke-width="0.7"/>
<line x1="396.2" y1="49.6" x2="396.2" y2="72.34" stroke="#222" stroke-width="0.75"/>
<path d="M394.35 70.9 L398.05 70.9 L396.2 74.5 Z" fill="#222"/>
<text x="404.78" y="73.4" font-size="6.9" text-anchor="start" fill="#2b2b2b" transform="rotate(-90 404.78 73.4)" textLength="22.5" lengthAdjust="spacingAndGlyphs">−24.7%</text>
<text x="370" y="116.6" font-size="6.85" text-anchor="end" fill="#2b2b2b" transform="rotate(-45 370 116.6)">scr</text>
<text x="385.9" y="116.6" font-size="6.85" text-anchor="end" fill="#2b2b2b" transform="rotate(-45 385.9 116.6)">LRRC58<tspan font-size="4.6" dy="-2.6">KD</tspan></text>
<text x="338.38" y="116.35" font-size="6.6" text-anchor="start" fill="#2b2b2b" transform="rotate(-90 338.38 116.35)" textLength="98.6" lengthAdjust="spacingAndGlyphs">Total cholesterol (mg per g tissue)</text>
<text x="424.6" y="7.9" font-size="11" text-anchor="start" fill="#000" font-weight="bold">e</text>
<line x1="455.4" y1="23.7" x2="455.4" y2="110.7" stroke="#7a7a7a" stroke-width="0.8"/>
<line x1="452.6" y1="110.5" x2="455.4" y2="110.5" stroke="#7a7a7a" stroke-width="0.8"/>
<text x="449.1" y="112.98" font-size="6.9" text-anchor="end" fill="#2b2b2b">0</text>
<line x1="452.6" y1="86.5" x2="455.4" y2="86.5" stroke="#7a7a7a" stroke-width="0.8"/>
<text x="449.1" y="88.98" font-size="6.9" text-anchor="end" fill="#2b2b2b">0.5</text>
<line x1="452.6" y1="62.5" x2="455.4" y2="62.5" stroke="#7a7a7a" stroke-width="0.8"/>
<text x="449.1" y="64.98" font-size="6.9" text-anchor="end" fill="#2b2b2b">1.0</text>
<line x1="452.6" y1="38.5" x2="455.4" y2="38.5" stroke="#7a7a7a" stroke-width="0.8"/>
<text x="449.1" y="40.98" font-size="6.9" text-anchor="end" fill="#2b2b2b">1.5</text>
<line x1="451.6" y1="110.7" x2="487.5" y2="110.7" stroke="#c9c9c9" stroke-width="1.3"/>
<rect x="459.8" y="62.5" width="9.7" height="48.4" fill="#5a5e61"/>
<line x1="464.65" y1="57.46" x2="464.65" y2="62.5" stroke="#333" stroke-width="0.7"/>
<line x1="460.96" y1="57.46" x2="468.34" y2="57.46" stroke="#333" stroke-width="0.7"/>
<rect x="474.2" y="79.54" width="9.7" height="31.36" fill="#981526"/>
<line x1="479.05" y1="76.85" x2="479.05" y2="79.54" stroke="#333" stroke-width="0.7"/>
<line x1="475.36" y1="76.85" x2="482.74" y2="76.85" stroke="#333" stroke-width="0.7"/>
<circle cx="464.2" cy="24.4" r="1" fill="#111"/>
<circle cx="462.7" cy="53.3" r="1" fill="#111"/>
<circle cx="466" cy="52.5" r="1" fill="#111"/>
<circle cx="464.2" cy="56.2" r="1" fill="#111"/>
<circle cx="462.7" cy="59.5" r="1" fill="#111"/>
<circle cx="464.2" cy="62.5" r="1" fill="#111"/>
<circle cx="464.2" cy="67.1" r="1" fill="#111"/>
<circle cx="464.2" cy="72" r="1" fill="#111"/>
<circle cx="464.2" cy="77.5" r="1" fill="#111"/>
<circle cx="464.2" cy="85.4" r="1" fill="#111"/>
<circle cx="478.7" cy="66.5" r="1" fill="#111"/>
<circle cx="478.7" cy="73.1" r="1" fill="#111"/>
<circle cx="476.9" cy="77.5" r="1" fill="#111"/>
<circle cx="479.6" cy="77.2" r="1" fill="#111"/>
<circle cx="481.8" cy="77.5" r="1" fill="#111"/>
<circle cx="478.7" cy="79" r="1" fill="#111"/>
<circle cx="476.9" cy="83.6" r="1" fill="#111"/>
<circle cx="480.2" cy="83.6" r="1" fill="#111"/>
<circle cx="478.7" cy="89.7" r="1" fill="#111"/>
<text x="453.7" y="16" font-size="6.5" text-anchor="start" fill="#2b2b2b"><tspan font-style="italic">P</tspan> = 0.0028</text>
<line x1="461" y1="18.2" x2="478.6" y2="18.2" stroke="#333" stroke-width="0.7"/>
<line x1="488.4" y1="48.6" x2="488.4" y2="72.04" stroke="#222" stroke-width="0.75"/>
<path d="M486.55 70.6 L490.25 70.6 L488.4 74.2 Z" fill="#222"/>
<text x="497.28" y="73.1" font-size="6.9" text-anchor="start" fill="#2b2b2b" transform="rotate(-90 497.28 73.1)" textLength="22" lengthAdjust="spacingAndGlyphs">−35.6%</text>
<text x="468" y="116.1" font-size="6.85" text-anchor="end" fill="#2b2b2b" transform="rotate(-45 468 116.1)">scr</text>
<text x="484" y="116.6" font-size="6.85" text-anchor="end" fill="#2b2b2b" transform="rotate(-45 484 116.6)">LRRC58<tspan font-size="4.6" dy="-2.6">KD</tspan></text>
<text x="432.28" y="117.95" font-size="6.6" text-anchor="start" fill="#2b2b2b" transform="rotate(-90 432.28 117.95)" textLength="101.4" lengthAdjust="spacingAndGlyphs">Cysteine abundance (relative to scr)</text>
<text x="520.8" y="7.7" font-size="11" text-anchor="start" fill="#000" font-weight="bold">f</text>
<line x1="555" y1="23.7" x2="555" y2="110.7" stroke="#c4c4c4" stroke-width="1.8"/>
<line x1="552.2" y1="110.9" x2="555" y2="110.9" stroke="#7a7a7a" stroke-width="0.8"/>
<text x="547.6" y="113.38" font-size="6.9" text-anchor="end" fill="#2b2b2b">0</text>
<line x1="552.2" y1="89.1" x2="555" y2="89.1" stroke="#7a7a7a" stroke-width="0.8"/>
<text x="547.6" y="91.58" font-size="6.9" text-anchor="end" fill="#2b2b2b">2</text>
<line x1="552.2" y1="67.3" x2="555" y2="67.3" stroke="#7a7a7a" stroke-width="0.8"/>
<text x="547.6" y="69.78" font-size="6.9" text-anchor="end" fill="#2b2b2b">4</text>
<line x1="552.2" y1="45.5" x2="555" y2="45.5" stroke="#7a7a7a" stroke-width="0.8"/>
<text x="547.6" y="47.98" font-size="6.9" text-anchor="end" fill="#2b2b2b">6</text>
<line x1="552.2" y1="23.7" x2="555" y2="23.7" stroke="#7a7a7a" stroke-width="0.8"/>
<text x="547.6" y="26.18" font-size="6.9" text-anchor="end" fill="#2b2b2b">8</text>
<line x1="550.8" y1="110.7" x2="589.3" y2="110.7" stroke="#c9c9c9" stroke-width="1.3"/>
<rect x="559.6" y="100.22" width="10.1" height="10.68" fill="#5a5e61"/>
<line x1="564.65" y1="96.62" x2="564.65" y2="100.22" stroke="#333" stroke-width="0.7"/>
<line x1="560.81" y1="96.62" x2="568.49" y2="96.62" stroke="#333" stroke-width="0.7"/>
<rect x="575.2" y="76.02" width="9.9" height="34.88" fill="#981526"/>
<line x1="580.15" y1="68.17" x2="580.15" y2="76.02" stroke="#a9a9a9" stroke-width="0.7"/>
<line x1="576.39" y1="68.17" x2="583.91" y2="68.17" stroke="#a9a9a9" stroke-width="0.7"/>
<line x1="580.15" y1="76.02" x2="580.15" y2="90" stroke="#c08a92" stroke-width="0.7"/>
<circle cx="565" cy="89.5" r="1" fill="#111"/>
<circle cx="563.4" cy="91.9" r="1" fill="#111"/>
<circle cx="566.5" cy="91.9" r="1" fill="#111"/>
<circle cx="565" cy="94.7" r="1" fill="#111"/>
<circle cx="561.7" cy="97.6" r="1" fill="#111"/>
<circle cx="565" cy="97.6" r="1" fill="#111"/>
<circle cx="568.2" cy="97.6" r="1" fill="#111"/>
<circle cx="563.4" cy="104.3" r="1" fill="#111"/>
<circle cx="566.5" cy="104.3" r="1" fill="#111"/>
<circle cx="565" cy="108" r="1" fill="#111"/>
<circle cx="579.7" cy="36.7" r="1" fill="#111"/>
<circle cx="579.7" cy="46.8" r="1" fill="#111"/>
<circle cx="579.7" cy="62.9" r="1" fill="#111"/>
<circle cx="579.7" cy="77.5" r="1" fill="#111"/>
<circle cx="579.7" cy="83.2" r="1" fill="#111"/>
<circle cx="579.7" cy="87.6" r="1" fill="#111"/>
<circle cx="577.8" cy="98.8" r="1" fill="#111"/>
<circle cx="581.9" cy="98.8" r="1" fill="#111"/>
<text x="557.5" y="16" font-size="6.5" text-anchor="start" fill="#2b2b2b"><tspan font-style="italic">P</tspan> = 0.0018</text>
<line x1="563.7" y1="18.2" x2="581.2" y2="18.2" stroke="#333" stroke-width="0.7"/>
<text x="568.9" y="116.5" font-size="6.85" text-anchor="end" fill="#2b2b2b" transform="rotate(-45 568.9 116.5)">scr</text>
<text x="584.9" y="116.6" font-size="6.85" text-anchor="end" fill="#2b2b2b" transform="rotate(-45 584.9 116.6)">LRRC58<tspan font-size="4.6" dy="-2.6">KD</tspan></text>
<text x="527.38" y="102.75" font-size="6.6" text-anchor="start" fill="#2b2b2b" transform="rotate(-90 527.38 102.75)" textLength="72" lengthAdjust="spacingAndGlyphs">Taurine-C<tspan font-size="4.5" dy="1.5">2</tspan><tspan dy="-1.5">N</tspan><tspan font-size="4.5" dy="1.5">1</tspan><tspan dy="-1.5"> abundance</tspan></text>
<text x="535.28" y="81.65" font-size="6.6" text-anchor="start" fill="#2b2b2b" transform="rotate(-90 535.28 81.65)" textLength="41.4" lengthAdjust="spacingAndGlyphs">(relative to scr)</text>
<text x="611.4" y="7.5" font-size="11" text-anchor="start" fill="#000" font-weight="bold">g</text>
<line x1="640.7" y1="22.5" x2="640.7" y2="109.6" stroke="#7a7a7a" stroke-width="0.8"/>
<line x1="637.9" y1="109.7" x2="640.7" y2="109.7" stroke="#7a7a7a" stroke-width="0.8"/>
<text x="634.4" y="112.18" font-size="6.9" text-anchor="end" fill="#2b2b2b">0</text>
<line x1="637.9" y1="85.5" x2="640.7" y2="85.5" stroke="#7a7a7a" stroke-width="0.8"/>
<text x="634.4" y="87.98" font-size="6.9" text-anchor="end" fill="#2b2b2b">0.5</text>
<line x1="637.9" y1="61.3" x2="640.7" y2="61.3" stroke="#7a7a7a" stroke-width="0.8"/>
<text x="634.4" y="63.78" font-size="6.9" text-anchor="end" fill="#2b2b2b">1.0</text>
<line x1="637.9" y1="37.1" x2="640.7" y2="37.1" stroke="#7a7a7a" stroke-width="0.8"/>
<text x="634.4" y="39.58" font-size="6.9" text-anchor="end" fill="#2b2b2b">1.5</text>
<line x1="636.9" y1="109.6" x2="670.2" y2="109.6" stroke="#c9c9c9" stroke-width="1.3"/>
<rect x="644.7" y="61.3" width="9.7" height="48.5" fill="#5a5e61"/>
<line x1="649.55" y1="57.43" x2="649.55" y2="61.3" stroke="#333" stroke-width="0.7"/>
<line x1="645.86" y1="57.43" x2="653.24" y2="57.43" stroke="#333" stroke-width="0.7"/>
<rect x="658.8" y="71.95" width="9.6" height="37.85" fill="#981526"/>
<line x1="663.6" y1="68.56" x2="663.6" y2="71.95" stroke="#333" stroke-width="0.7"/>
<line x1="659.95" y1="68.56" x2="667.25" y2="68.56" stroke="#333" stroke-width="0.7"/>
<circle cx="649.4" cy="38.8" r="1" fill="#111"/>
<circle cx="649.4" cy="49.3" r="1" fill="#111"/>
<circle cx="649.4" cy="54.8" r="1" fill="#111"/>
<circle cx="647.9" cy="58.1" r="1" fill="#111"/>
<circle cx="651" cy="58.1" r="1" fill="#111"/>
<circle cx="649.4" cy="60.7" r="1" fill="#111"/>
<circle cx="647.9" cy="64" r="1" fill="#111"/>
<circle cx="651" cy="64" r="1" fill="#111"/>
<circle cx="649.4" cy="69.5" r="1" fill="#111"/>
<circle cx="649.4" cy="73.9" r="1" fill="#111"/>
<circle cx="649.4" cy="76" r="1" fill="#111"/>
<circle cx="663.7" cy="56.8" r="1" fill="#111"/>
<circle cx="663.7" cy="62.9" r="1" fill="#111"/>
<circle cx="661.9" cy="68.4" r="1" fill="#111"/>
<circle cx="665.2" cy="67.7" r="1" fill="#111"/>
<circle cx="660.2" cy="73.9" r="1" fill="#111"/>
<circle cx="663.7" cy="75" r="1" fill="#111"/>
<circle cx="667.4" cy="75" r="1" fill="#111"/>
<circle cx="663.7" cy="82.6" r="1" fill="#111"/>
<text x="642.1" y="16" font-size="6.5" text-anchor="start" fill="#2b2b2b"><tspan font-style="italic">P</tspan> = 0.013</text>
<line x1="647.4" y1="18.2" x2="664.9" y2="18.2" stroke="#333" stroke-width="0.7"/>
<line x1="676.3" y1="47.6" x2="676.3" y2="72.04" stroke="#222" stroke-width="0.75"/>
<path d="M674.45 70.6 L678.15 70.6 L676.3 74.2 Z" fill="#222"/>
<text x="684.48" y="71.9" font-size="6.9" text-anchor="start" fill="#2b2b2b" transform="rotate(-90 684.48 71.9)" textLength="23.3" lengthAdjust="spacingAndGlyphs">−25.5%</text>
<text x="652.7" y="116.1" font-size="6.85" text-anchor="end" fill="#2b2b2b" transform="rotate(-45 652.7 116.1)">scr</text>
<text x="669.2" y="115.8" font-size="6.85" text-anchor="end" fill="#2b2b2b" transform="rotate(-45 669.2 115.8)">LRRC58<tspan font-size="4.6" dy="-2.6">KD</tspan></text>
<text x="617.58" y="116.35" font-size="6.6" text-anchor="start" fill="#2b2b2b" transform="rotate(-90 617.58 116.35)" textLength="100.6" lengthAdjust="spacingAndGlyphs">Total BA abundance (relative to scr)</text>
<text x="0" y="163.6" font-size="11" text-anchor="start" fill="#000" font-weight="bold">h</text>
<line x1="31.6" y1="180.1" x2="31.6" y2="267.5" stroke="#7a7a7a" stroke-width="0.8"/>
<line x1="28.8" y1="267.4" x2="31.6" y2="267.4" stroke="#7a7a7a" stroke-width="0.8"/>
<text x="24.2" y="269.88" font-size="6.9" text-anchor="end" fill="#2b2b2b">0</text>
<line x1="28.8" y1="238.3" x2="31.6" y2="238.3" stroke="#7a7a7a" stroke-width="0.8"/>
<text x="24.2" y="240.78" font-size="6.9" text-anchor="end" fill="#2b2b2b">10</text>
<line x1="28.8" y1="209.2" x2="31.6" y2="209.2" stroke="#7a7a7a" stroke-width="0.8"/>
<text x="24.2" y="211.68" font-size="6.9" text-anchor="end" fill="#2b2b2b">20</text>
<line x1="28.8" y1="180.1" x2="31.6" y2="180.1" stroke="#7a7a7a" stroke-width="0.8"/>
<text x="24.2" y="182.58" font-size="6.9" text-anchor="end" fill="#2b2b2b">30</text>
<line x1="27.7" y1="267.5" x2="66.3" y2="267.5" stroke="#c9c9c9" stroke-width="1.3"/>
<rect x="36.3" y="221.13" width="10.2" height="46.57" fill="#5a5e61"/>
<line x1="41.4" y1="219.97" x2="41.4" y2="221.13" stroke="#333" stroke-width="0.7"/>
<line x1="37.52" y1="219.97" x2="45.28" y2="219.97" stroke="#333" stroke-width="0.7"/>
<rect x="51.3" y="212.69" width="10.1" height="55.01" fill="#981526"/>
<line x1="56.35" y1="210.65" x2="56.35" y2="212.69" stroke="#333" stroke-width="0.7"/>
<line x1="52.51" y1="210.65" x2="60.19" y2="210.65" stroke="#333" stroke-width="0.7"/>
<circle cx="41.4" cy="215" r="1" fill="#111"/>
<circle cx="39.1" cy="217" r="1" fill="#111"/>
<circle cx="43.3" cy="216.4" r="1" fill="#111"/>
<circle cx="39.1" cy="220.2" r="1" fill="#111"/>
<circle cx="41.8" cy="220.2" r="1" fill="#111"/>
<circle cx="44.8" cy="220.7" r="1" fill="#111"/>
<circle cx="38" cy="222" r="1" fill="#111"/>
<circle cx="41" cy="223" r="1" fill="#111"/>
<circle cx="45" cy="222.5" r="1" fill="#111"/>
<circle cx="41.8" cy="232.1" r="1" fill="#111"/>
<circle cx="56.2" cy="193.6" r="1" fill="#111"/>
<circle cx="51.9" cy="203" r="1" fill="#111"/>
<circle cx="56.2" cy="204.6" r="1" fill="#111"/>
<circle cx="53.8" cy="208.8" r="1" fill="#111"/>
<circle cx="58.1" cy="209.3" r="1" fill="#111"/>
<circle cx="56.6" cy="213.5" r="1" fill="#111"/>
<circle cx="52.4" cy="222.1" r="1" fill="#111"/>
<circle cx="56.2" cy="222.1" r="1" fill="#111"/>
<circle cx="60.4" cy="223.6" r="1" fill="#111"/>
<circle cx="52.4" cy="225" r="1" fill="#111"/>
<text x="33.6" y="174.9" font-size="6.5" text-anchor="start" fill="#2b2b2b"><tspan font-style="italic">P</tspan> = 0.019</text>
<line x1="37.9" y1="177.4" x2="55.4" y2="177.4" stroke="#333" stroke-width="0.7"/>
<line x1="70.4" y1="232.5" x2="70.4" y2="208.56" stroke="#222" stroke-width="0.75"/>
<path d="M68.55 210 L72.25 210 L70.4 206.4 Z" fill="#222"/>
<text x="80.18" y="232.5" font-size="6.9" text-anchor="start" fill="#2b2b2b" transform="rotate(-90 80.18 232.5)" textLength="25.1" lengthAdjust="spacingAndGlyphs">+19.5 %</text>
<text x="44.4" y="273.5" font-size="6.85" text-anchor="end" fill="#2b2b2b" transform="rotate(-45 44.4 273.5)">scr</text>
<text x="60.4" y="274.1" font-size="6.85" text-anchor="end" fill="#2b2b2b" transform="rotate(-45 60.4 274.1)">LRRC58<tspan font-size="4.6" dy="-2.6">KD</tspan></text>
<text x="10.28" y="270.95" font-size="6.6" text-anchor="start" fill="#2b2b2b" transform="rotate(-90 10.28 270.95)" textLength="93.3" lengthAdjust="spacingAndGlyphs">Total cholesterol (mg per dl bile)</text>
<text x="112" y="163.4" font-size="11" text-anchor="start" fill="#000" font-weight="bold">i</text>
<line x1="139.3" y1="180" x2="139.3" y2="267.5" stroke="#7a7a7a" stroke-width="0.8"/>
<line x1="136.5" y1="267.3" x2="139.3" y2="267.3" stroke="#7a7a7a" stroke-width="0.8"/>
<text x="131.9" y="269.78" font-size="6.9" text-anchor="end" fill="#2b2b2b">0</text>
<line x1="136.5" y1="238.15" x2="139.3" y2="238.15" stroke="#7a7a7a" stroke-width="0.8"/>
<text x="131.9" y="240.63" font-size="6.9" text-anchor="end" fill="#2b2b2b">5</text>
<line x1="136.5" y1="209" x2="139.3" y2="209" stroke="#7a7a7a" stroke-width="0.8"/>
<text x="131.9" y="211.48" font-size="6.9" text-anchor="end" fill="#2b2b2b">10</text>
<line x1="136.5" y1="179.85" x2="139.3" y2="179.85" stroke="#7a7a7a" stroke-width="0.8"/>
<text x="131.9" y="182.33" font-size="6.9" text-anchor="end" fill="#2b2b2b">15</text>
<line x1="135.1" y1="267.5" x2="172" y2="267.5" stroke="#c9c9c9" stroke-width="1.3"/>
<rect x="144" y="225.32" width="10" height="42.38" fill="#5a5e61"/>
<line x1="149" y1="221.65" x2="149" y2="225.32" stroke="#333" stroke-width="0.7"/>
<line x1="145.2" y1="221.65" x2="152.8" y2="221.65" stroke="#333" stroke-width="0.7"/>
<rect x="158.9" y="235.82" width="10" height="31.88" fill="#981526"/>
<line x1="163.9" y1="232.9" x2="163.9" y2="235.82" stroke="#333" stroke-width="0.7"/>
<line x1="160.1" y1="232.9" x2="167.7" y2="232.9" stroke="#333" stroke-width="0.7"/>
<circle cx="148.8" cy="206.8" r="1" fill="#111"/>
<circle cx="144.8" cy="211.6" r="1" fill="#111"/>
<circle cx="148.8" cy="213.7" r="1" fill="#111"/>
<circle cx="153.2" cy="211.6" r="1" fill="#111"/>
<circle cx="148.8" cy="218.5" r="1" fill="#111"/>
<circle cx="146.8" cy="229.3" r="1" fill="#111"/>
<circle cx="150.9" cy="228.9" r="1" fill="#111"/>
<circle cx="148.8" cy="236.2" r="1" fill="#111"/>
<circle cx="152.9" cy="234.6" r="1" fill="#111"/>
<circle cx="146.8" cy="243.7" r="1" fill="#111"/>
<circle cx="150.9" cy="243.1" r="1" fill="#111"/>
<circle cx="162.2" cy="223.8" r="1" fill="#111"/>
<circle cx="165.7" cy="223.3" r="1" fill="#111"/>
<circle cx="162.2" cy="228.1" r="1" fill="#111"/>
<circle cx="165.7" cy="227.3" r="1" fill="#111"/>
<circle cx="164.1" cy="237.8" r="1" fill="#111"/>
<circle cx="164.1" cy="239.6" r="1" fill="#111"/>
<circle cx="162.2" cy="243.7" r="1" fill="#111"/>
<circle cx="165.7" cy="243.1" r="1" fill="#111"/>
<circle cx="164.1" cy="247.9" r="1" fill="#111"/>
<circle cx="164.1" cy="249.8" r="1" fill="#111"/>
<text x="143.8" y="174.1" font-size="6.5" text-anchor="start" fill="#2b2b2b"><tspan font-style="italic">P</tspan> = 0.047</text>
<line x1="147.9" y1="176.4" x2="165.1" y2="176.4" stroke="#333" stroke-width="0.7"/>
<line x1="175.3" y1="204.6" x2="175.3" y2="228.54" stroke="#222" stroke-width="0.75"/>
<path d="M173.45 227.1 L177.15 227.1 L175.3 230.7 Z" fill="#222"/>
<text x="184.28" y="229.5" font-size="6.9" text-anchor="start" fill="#2b2b2b" transform="rotate(-90 184.28 229.5)" textLength="23" lengthAdjust="spacingAndGlyphs">−23.1%</text>
<text x="152.3" y="273.5" font-size="6.85" text-anchor="end" fill="#2b2b2b" transform="rotate(-45 152.3 273.5)">scr</text>
<text x="168.3" y="274.1" font-size="6.85" text-anchor="end" fill="#2b2b2b" transform="rotate(-45 168.3 274.1)">LRRC58<tspan font-size="4.6" dy="-2.6">KD</tspan></text>
<text x="118.38" y="252.85" font-size="6.6" text-anchor="start" fill="#2b2b2b" transform="rotate(-90 118.38 252.85)" textLength="59.3" lengthAdjust="spacingAndGlyphs">TG (mg per g tissue)</text>
<text x="487.4" y="163.4" font-size="11" text-anchor="start" fill="#000" font-weight="bold">k</text>
<line x1="511.4" y1="179.4" x2="511.4" y2="266.8" stroke="#7a7a7a" stroke-width="0.8"/>
<line x1="508.6" y1="267" x2="511.4" y2="267" stroke="#7a7a7a" stroke-width="0.8"/>
<text x="504" y="269.48" font-size="6.9" text-anchor="end" fill="#2b2b2b">0</text>
<line x1="508.6" y1="245.1" x2="511.4" y2="245.1" stroke="#7a7a7a" stroke-width="0.8"/>
<text x="504" y="247.58" font-size="6.9" text-anchor="end" fill="#2b2b2b">2</text>
<line x1="508.6" y1="223.2" x2="511.4" y2="223.2" stroke="#7a7a7a" stroke-width="0.8"/>
<text x="504" y="225.68" font-size="6.9" text-anchor="end" fill="#2b2b2b">4</text>
<line x1="508.6" y1="201.3" x2="511.4" y2="201.3" stroke="#7a7a7a" stroke-width="0.8"/>
<text x="504" y="203.78" font-size="6.9" text-anchor="end" fill="#2b2b2b">6</text>
<line x1="508.6" y1="179.4" x2="511.4" y2="179.4" stroke="#7a7a7a" stroke-width="0.8"/>
<text x="504" y="181.88" font-size="6.9" text-anchor="end" fill="#2b2b2b">8</text>
<line x1="506.8" y1="266.8" x2="545.8" y2="266.8" stroke="#c9c9c9" stroke-width="1.3"/>
<rect x="516.3" y="216.96" width="10.2" height="50.04" fill="#5a5e61"/>
<line x1="521.4" y1="212.58" x2="521.4" y2="216.96" stroke="#333" stroke-width="0.7"/>
<line x1="517.52" y1="212.58" x2="525.28" y2="212.58" stroke="#333" stroke-width="0.7"/>
<rect x="531.2" y="233.71" width="10.2" height="33.29" fill="#981526"/>
<line x1="536.3" y1="229.88" x2="536.3" y2="233.71" stroke="#333" stroke-width="0.7"/>
<line x1="532.42" y1="229.88" x2="540.18" y2="229.88" stroke="#333" stroke-width="0.7"/>
<circle cx="521.1" cy="197.2" r="1" fill="#111"/>
<circle cx="516.8" cy="211.3" r="1" fill="#111"/>
<circle cx="516.8" cy="214.3" r="1" fill="#111"/>
<circle cx="521.1" cy="213.2" r="1" fill="#111"/>
<circle cx="525.3" cy="213.2" r="1" fill="#111"/>
<circle cx="521.1" cy="216.6" r="1" fill="#111"/>
<circle cx="521.1" cy="221.4" r="1" fill="#111"/>
<circle cx="521.1" cy="229" r="1" fill="#111"/>
<circle cx="521.1" cy="232.2" r="1" fill="#111"/>
<circle cx="535.8" cy="215.1" r="1" fill="#111"/>
<circle cx="535.8" cy="220" r="1" fill="#111"/>
<circle cx="533.3" cy="234.1" r="1" fill="#111"/>
<circle cx="536.3" cy="233.3" r="1" fill="#111"/>
<circle cx="536.3" cy="241" r="1" fill="#111"/>
<circle cx="536.3" cy="245.1" r="1" fill="#111"/>
<circle cx="536.3" cy="247" r="1" fill="#111"/>
<text x="515.8" y="174.4" font-size="6.5" text-anchor="start" fill="#2b2b2b"><tspan font-style="italic">P</tspan> = 0.0051</text>
<line x1="522" y1="176.4" x2="538" y2="176.4" stroke="#333" stroke-width="0.7"/>
<line x1="546.9" y1="217" x2="546.9" y2="230.94" stroke="#222" stroke-width="0.75"/>
<path d="M545.05 229.5 L548.75 229.5 L546.9 233.1 Z" fill="#222"/>
<text x="555.58" y="237.1" font-size="6.9" text-anchor="start" fill="#2b2b2b" transform="rotate(-90 555.58 237.1)" textLength="23.4" lengthAdjust="spacingAndGlyphs">−34.1%</text>
<text x="525.2" y="276.9" font-size="6.85" text-anchor="end" fill="#2b2b2b" transform="rotate(-45 525.2 276.9)">High LRRC58</text>
<text x="540.9" y="277.2" font-size="6.85" text-anchor="end" fill="#2b2b2b" transform="rotate(-45 540.9 277.2)">Low LRRC58</text>
<text x="493.28" y="272.85" font-size="6.6" text-anchor="start" fill="#2b2b2b" transform="rotate(-90 493.28 272.85)" textLength="99.1" lengthAdjust="spacingAndGlyphs">Total cholesterol (mg per g tissue)</text>
<line x1="521.4" y1="266.8" x2="521.4" y2="270.8" stroke="#7a7a7a" stroke-width="0.8"/>
<line x1="536.3" y1="266.8" x2="536.3" y2="270.8" stroke="#7a7a7a" stroke-width="0.8"/>
<text x="215.4" y="163.6" font-size="11" text-anchor="start" fill="#000" font-weight="bold">j</text>
<line x1="246.3" y1="189.8" x2="246.3" y2="277.4" stroke="#7a7a7a" stroke-width="0.8"/>
<line x1="243.5" y1="277.4" x2="246.3" y2="277.4" stroke="#7a7a7a" stroke-width="0.8"/>
<text x="238.9" y="279.88" font-size="6.9" text-anchor="end" fill="#2b2b2b">0</text>
<line x1="243.5" y1="248.2" x2="246.3" y2="248.2" stroke="#7a7a7a" stroke-width="0.8"/>
<text x="238.9" y="250.68" font-size="6.9" text-anchor="end" fill="#2b2b2b">1</text>
<line x1="243.5" y1="219" x2="246.3" y2="219" stroke="#7a7a7a" stroke-width="0.8"/>
<text x="238.9" y="221.48" font-size="6.9" text-anchor="end" fill="#2b2b2b">2</text>
<line x1="243.5" y1="189.8" x2="246.3" y2="189.8" stroke="#7a7a7a" stroke-width="0.8"/>
<text x="238.9" y="192.28" font-size="6.9" text-anchor="end" fill="#2b2b2b">3</text>
<line x1="243" y1="277.4" x2="416.5" y2="277.4" stroke="#c9c9c9" stroke-width="1.3"/>
<rect x="248.8" y="248.2" width="3.8" height="29.4" fill="#5a5e61"/>
<line x1="250.7" y1="243.24" x2="250.7" y2="248.2" stroke="#333" stroke-width="0.7"/>
<line x1="249.3" y1="243.24" x2="252.1" y2="243.24" stroke="#333" stroke-width="0.7"/>
<rect x="254" y="265.72" width="3.9" height="11.88" fill="#981526"/>
<line x1="255.95" y1="264.55" x2="255.95" y2="265.72" stroke="#333" stroke-width="0.7"/>
<line x1="254.55" y1="264.55" x2="257.35" y2="264.55" stroke="#333" stroke-width="0.7"/>
<circle cx="250.7" cy="221.6" r="1.3" fill="#1a1a1a"/>
<circle cx="250.7" cy="235.3" r="1.3" fill="#1a1a1a"/>
<circle cx="250.49" cy="256.31" r="1.25" fill="#1a1a1a"/>
<circle cx="250.6" cy="257.48" r="1.25" fill="#1a1a1a"/>
<circle cx="250.8" cy="246.98" r="1.25" fill="#1a1a1a"/>
<circle cx="250.31" cy="262.03" r="1.25" fill="#1a1a1a"/>
<circle cx="250.51" cy="250.27" r="1.25" fill="#1a1a1a"/>
<circle cx="251.1" cy="254.87" r="1.25" fill="#1a1a1a"/>
<circle cx="250.97" cy="254.99" r="1.25" fill="#1a1a1a"/>
<circle cx="250.81" cy="248.64" r="1.25" fill="#1a1a1a"/>
<circle cx="250.81" cy="262.63" r="1.25" fill="#1a1a1a"/>
<circle cx="255.95" cy="261" r="1.3" fill="#1a1a1a"/>
<circle cx="255.95" cy="272" r="1.3" fill="#1a1a1a"/>
<circle cx="255.97" cy="271.62" r="1.25" fill="#1a1a1a"/>
<circle cx="256.09" cy="263.49" r="1.25" fill="#1a1a1a"/>
<circle cx="256.16" cy="269.81" r="1.25" fill="#1a1a1a"/>
<circle cx="255.79" cy="263.09" r="1.25" fill="#1a1a1a"/>
<circle cx="256.24" cy="268.39" r="1.25" fill="#1a1a1a"/>
<circle cx="256.13" cy="273.27" r="1.25" fill="#1a1a1a"/>
<line x1="253.3" y1="277.4" x2="253.3" y2="280.2" stroke="#7a7a7a" stroke-width="0.8"/>
<text x="256.4" y="286.7" font-size="6.85" text-anchor="end" fill="#2b2b2b" transform="rotate(-45 256.4 286.7)">Hydroxypalmitoyl-carnitine</text>
<text x="255.05" y="193.9" font-size="6.5" text-anchor="start" fill="#2b2b2b" transform="rotate(-90 255.05 193.9)"><tspan font-style="italic">P</tspan> = 0.0010</text>
<line x1="250.1" y1="196.5" x2="256.5" y2="196.5" stroke="#333" stroke-width="0.7"/>
<rect x="263.02" y="248.2" width="3.8" height="29.4" fill="#5a5e61"/>
<line x1="264.92" y1="242.36" x2="264.92" y2="248.2" stroke="#333" stroke-width="0.7"/>
<line x1="263.52" y1="242.36" x2="266.32" y2="242.36" stroke="#333" stroke-width="0.7"/>
<rect x="268.22" y="265.14" width="3.9" height="12.46" fill="#981526"/>
<line x1="270.17" y1="263.97" x2="270.17" y2="265.14" stroke="#333" stroke-width="0.7"/>
<line x1="268.77" y1="263.97" x2="271.57" y2="263.97" stroke="#333" stroke-width="0.7"/>
<circle cx="264.92" cy="213.2" r="1.3" fill="#1a1a1a"/>
<circle cx="264.92" cy="229" r="1.3" fill="#1a1a1a"/>
<circle cx="265.09" cy="263.66" r="1.25" fill="#1a1a1a"/>
<circle cx="264.84" cy="261.32" r="1.25" fill="#1a1a1a"/>
<circle cx="264.88" cy="263.94" r="1.25" fill="#1a1a1a"/>
<circle cx="265.22" cy="247.6" r="1.25" fill="#1a1a1a"/>
<circle cx="264.63" cy="249.93" r="1.25" fill="#1a1a1a"/>
<circle cx="265.29" cy="254.21" r="1.25" fill="#1a1a1a"/>
<circle cx="265.02" cy="251.57" r="1.25" fill="#1a1a1a"/>
<circle cx="264.93" cy="253.22" r="1.25" fill="#1a1a1a"/>
<circle cx="264.8" cy="257.11" r="1.25" fill="#1a1a1a"/>
<circle cx="270.17" cy="261.5" r="1.3" fill="#1a1a1a"/>
<circle cx="270.17" cy="266" r="1.3" fill="#1a1a1a"/>
<circle cx="270.24" cy="272.99" r="1.25" fill="#1a1a1a"/>
<circle cx="270.32" cy="273.28" r="1.25" fill="#1a1a1a"/>
<circle cx="270.46" cy="274.03" r="1.25" fill="#1a1a1a"/>
<circle cx="270.31" cy="264.09" r="1.25" fill="#1a1a1a"/>
<circle cx="270.46" cy="273.71" r="1.25" fill="#1a1a1a"/>
<circle cx="270.49" cy="268.97" r="1.25" fill="#1a1a1a"/>
<line x1="267.52" y1="277.4" x2="267.52" y2="280.2" stroke="#7a7a7a" stroke-width="0.8"/>
<text x="270.62" y="286.7" font-size="6.85" text-anchor="end" fill="#2b2b2b" transform="rotate(-45 270.62 286.7)">Lauroyl-<tspan font-size="4.6">L</tspan>-carnitine</text>
<text x="269.27" y="193.9" font-size="6.5" text-anchor="start" fill="#2b2b2b" transform="rotate(-90 269.27 193.9)"><tspan font-style="italic">P</tspan> = 0.0078</text>
<line x1="264.32" y1="196.5" x2="270.72" y2="196.5" stroke="#333" stroke-width="0.7"/>
<rect x="277.24" y="248.2" width="3.8" height="29.4" fill="#5a5e61"/>
<line x1="279.14" y1="243.24" x2="279.14" y2="248.2" stroke="#333" stroke-width="0.7"/>
<line x1="277.74" y1="243.24" x2="280.54" y2="243.24" stroke="#333" stroke-width="0.7"/>
<rect x="282.44" y="265.14" width="3.9" height="12.46" fill="#981526"/>
<line x1="284.39" y1="263.97" x2="284.39" y2="265.14" stroke="#333" stroke-width="0.7"/>
<line x1="282.99" y1="263.97" x2="285.79" y2="263.97" stroke="#333" stroke-width="0.7"/>
<circle cx="279.14" cy="220.1" r="1.3" fill="#1a1a1a"/>
<circle cx="279.14" cy="233.6" r="1.3" fill="#1a1a1a"/>
<circle cx="279.31" cy="249.82" r="1.25" fill="#1a1a1a"/>
<circle cx="279.41" cy="256.88" r="1.25" fill="#1a1a1a"/>
<circle cx="278.97" cy="246.94" r="1.25" fill="#1a1a1a"/>
<circle cx="279.42" cy="265" r="1.25" fill="#1a1a1a"/>
<circle cx="278.81" cy="261.31" r="1.25" fill="#1a1a1a"/>
<circle cx="279.07" cy="248.64" r="1.25" fill="#1a1a1a"/>
<circle cx="278.98" cy="260.69" r="1.25" fill="#1a1a1a"/>
<circle cx="279.44" cy="246.56" r="1.25" fill="#1a1a1a"/>
<circle cx="279.23" cy="246.58" r="1.25" fill="#1a1a1a"/>
<circle cx="284.39" cy="262" r="1.3" fill="#1a1a1a"/>
<circle cx="284.39" cy="266" r="1.3" fill="#1a1a1a"/>
<circle cx="284.56" cy="266.11" r="1.25" fill="#1a1a1a"/>
<circle cx="284.69" cy="273.9" r="1.25" fill="#1a1a1a"/>
<circle cx="284.39" cy="274.12" r="1.25" fill="#1a1a1a"/>
<circle cx="284.24" cy="263.06" r="1.25" fill="#1a1a1a"/>
<circle cx="284.47" cy="262.51" r="1.25" fill="#1a1a1a"/>
<circle cx="284.15" cy="267.03" r="1.25" fill="#1a1a1a"/>
<line x1="281.74" y1="277.4" x2="281.74" y2="280.2" stroke="#7a7a7a" stroke-width="0.8"/>
<text x="284.84" y="286.7" font-size="6.85" text-anchor="end" fill="#2b2b2b" transform="rotate(-45 284.84 286.7)">Myristoyl-carnitine</text>
<text x="283.49" y="193.9" font-size="6.5" text-anchor="start" fill="#2b2b2b" transform="rotate(-90 283.49 193.9)"><tspan font-style="italic">P</tspan> = 0.0025</text>
<line x1="278.54" y1="196.5" x2="284.94" y2="196.5" stroke="#333" stroke-width="0.7"/>
<rect x="291.46" y="248.2" width="3.8" height="29.4" fill="#5a5e61"/>
<line x1="293.36" y1="245.86" x2="293.36" y2="248.2" stroke="#333" stroke-width="0.7"/>
<line x1="291.96" y1="245.86" x2="294.76" y2="245.86" stroke="#333" stroke-width="0.7"/>
<rect x="296.66" y="262.22" width="3.9" height="15.38" fill="#981526"/>
<line x1="298.61" y1="260.76" x2="298.61" y2="262.22" stroke="#333" stroke-width="0.7"/>
<line x1="297.21" y1="260.76" x2="300.01" y2="260.76" stroke="#333" stroke-width="0.7"/>
<circle cx="293.36" cy="226.5" r="1.3" fill="#1a1a1a"/>
<circle cx="293.36" cy="237.7" r="1.3" fill="#1a1a1a"/>
<circle cx="293.45" cy="248.75" r="1.25" fill="#1a1a1a"/>
<circle cx="292.99" cy="262.62" r="1.25" fill="#1a1a1a"/>
<circle cx="293.21" cy="264.39" r="1.25" fill="#1a1a1a"/>
<circle cx="293.68" cy="253.07" r="1.25" fill="#1a1a1a"/>
<circle cx="293.33" cy="255.84" r="1.25" fill="#1a1a1a"/>
<circle cx="293.48" cy="257.32" r="1.25" fill="#1a1a1a"/>
<circle cx="293.41" cy="257.79" r="1.25" fill="#1a1a1a"/>
<circle cx="293.71" cy="255.59" r="1.25" fill="#1a1a1a"/>
<circle cx="293.3" cy="259.75" r="1.25" fill="#1a1a1a"/>
<circle cx="298.61" cy="257" r="1.3" fill="#1a1a1a"/>
<circle cx="298.61" cy="260" r="1.3" fill="#1a1a1a"/>
<circle cx="298.4" cy="262.83" r="1.25" fill="#1a1a1a"/>
<circle cx="298.99" cy="265.47" r="1.25" fill="#1a1a1a"/>
<circle cx="298.65" cy="259.35" r="1.25" fill="#1a1a1a"/>
<circle cx="298.54" cy="266.18" r="1.25" fill="#1a1a1a"/>
<circle cx="298.23" cy="266.61" r="1.25" fill="#1a1a1a"/>
<circle cx="298.72" cy="259.94" r="1.25" fill="#1a1a1a"/>
<line x1="295.96" y1="277.4" x2="295.96" y2="280.2" stroke="#7a7a7a" stroke-width="0.8"/>
<text x="299.06" y="286.7" font-size="6.85" text-anchor="end" fill="#2b2b2b" transform="rotate(-45 299.06 286.7)">O-Acetyl-<tspan font-size="4.6">L</tspan>-carnitine</text>
<text x="297.71" y="193.9" font-size="6.5" text-anchor="start" fill="#2b2b2b" transform="rotate(-90 297.71 193.9)"><tspan font-style="italic">P</tspan> = 6.4 × 10<tspan font-size="4.6" dy="-2.9">−5</tspan></text>
<line x1="292.76" y1="196.5" x2="299.16" y2="196.5" stroke="#333" stroke-width="0.7"/>
<rect x="305.68" y="248.2" width="3.8" height="29.4" fill="#5a5e61"/>
<line x1="307.58" y1="245.28" x2="307.58" y2="248.2" stroke="#333" stroke-width="0.7"/>
<line x1="306.18" y1="245.28" x2="308.98" y2="245.28" stroke="#333" stroke-width="0.7"/>
<rect x="310.88" y="261.05" width="3.9" height="16.55" fill="#981526"/>
<line x1="312.83" y1="259.3" x2="312.83" y2="261.05" stroke="#333" stroke-width="0.7"/>
<line x1="311.43" y1="259.3" x2="314.23" y2="259.3" stroke="#333" stroke-width="0.7"/>
<circle cx="307.58" cy="216.7" r="1.3" fill="#1a1a1a"/>
<circle cx="307.58" cy="219.5" r="1.3" fill="#1a1a1a"/>
<circle cx="307.58" cy="223.2" r="1.3" fill="#1a1a1a"/>
<circle cx="307.58" cy="240" r="1.3" fill="#1a1a1a"/>
<circle cx="307.68" cy="254.79" r="1.25" fill="#1a1a1a"/>
<circle cx="307.72" cy="252.58" r="1.25" fill="#1a1a1a"/>
<circle cx="307.75" cy="260.09" r="1.25" fill="#1a1a1a"/>
<circle cx="307.2" cy="246.88" r="1.25" fill="#1a1a1a"/>
<circle cx="307.72" cy="264.48" r="1.25" fill="#1a1a1a"/>
<circle cx="307.38" cy="254.6" r="1.25" fill="#1a1a1a"/>
<circle cx="307.65" cy="251.94" r="1.25" fill="#1a1a1a"/>
<circle cx="307.47" cy="251.8" r="1.25" fill="#1a1a1a"/>
<circle cx="307.48" cy="257.31" r="1.25" fill="#1a1a1a"/>
<circle cx="312.83" cy="249.4" r="1.3" fill="#1a1a1a"/>
<circle cx="312.83" cy="252.9" r="1.3" fill="#1a1a1a"/>
<circle cx="312.83" cy="255.3" r="1.3" fill="#1a1a1a"/>
<circle cx="312.67" cy="262.57" r="1.25" fill="#1a1a1a"/>
<circle cx="313.05" cy="258.37" r="1.25" fill="#1a1a1a"/>
<circle cx="312.89" cy="266.87" r="1.25" fill="#1a1a1a"/>
<circle cx="312.68" cy="260.72" r="1.25" fill="#1a1a1a"/>
<circle cx="313.07" cy="260.91" r="1.25" fill="#1a1a1a"/>
<circle cx="312.58" cy="263.27" r="1.25" fill="#1a1a1a"/>
<line x1="310.18" y1="277.4" x2="310.18" y2="280.2" stroke="#7a7a7a" stroke-width="0.8"/>
<text x="313.28" y="286.7" font-size="6.85" text-anchor="end" fill="#2b2b2b" transform="rotate(-45 313.28 286.7)">heptanoyl-carnitine</text>
<rect x="319.9" y="248.2" width="3.8" height="29.4" fill="#5a5e61"/>
<line x1="321.8" y1="245.86" x2="321.8" y2="248.2" stroke="#333" stroke-width="0.7"/>
<line x1="320.4" y1="245.86" x2="323.2" y2="245.86" stroke="#333" stroke-width="0.7"/>
<rect x="325.1" y="258.71" width="3.9" height="18.89" fill="#981526"/>
<line x1="327.05" y1="257.25" x2="327.05" y2="258.71" stroke="#333" stroke-width="0.7"/>
<line x1="325.65" y1="257.25" x2="328.45" y2="257.25" stroke="#333" stroke-width="0.7"/>
<circle cx="321.8" cy="230.3" r="1.3" fill="#1a1a1a"/>
<circle cx="321.8" cy="241.3" r="1.3" fill="#1a1a1a"/>
<circle cx="321.96" cy="247.69" r="1.25" fill="#1a1a1a"/>
<circle cx="321.66" cy="252.21" r="1.25" fill="#1a1a1a"/>
<circle cx="322.07" cy="254.25" r="1.25" fill="#1a1a1a"/>
<circle cx="322.08" cy="249" r="1.25" fill="#1a1a1a"/>
<circle cx="321.67" cy="258.38" r="1.25" fill="#1a1a1a"/>
<circle cx="322.11" cy="254.5" r="1.25" fill="#1a1a1a"/>
<circle cx="321.58" cy="248.06" r="1.25" fill="#1a1a1a"/>
<circle cx="321.82" cy="249.42" r="1.25" fill="#1a1a1a"/>
<circle cx="322.05" cy="262.05" r="1.25" fill="#1a1a1a"/>
<circle cx="327.05" cy="255.9" r="1.3" fill="#1a1a1a"/>
<circle cx="327.05" cy="259.1" r="1.3" fill="#1a1a1a"/>
<circle cx="326.8" cy="259.06" r="1.25" fill="#1a1a1a"/>
<circle cx="327.3" cy="263.42" r="1.25" fill="#1a1a1a"/>
<circle cx="327.3" cy="259.86" r="1.25" fill="#1a1a1a"/>
<circle cx="326.75" cy="259.22" r="1.25" fill="#1a1a1a"/>
<circle cx="327.29" cy="258.97" r="1.25" fill="#1a1a1a"/>
<circle cx="326.93" cy="260.71" r="1.25" fill="#1a1a1a"/>
<line x1="324.4" y1="277.4" x2="324.4" y2="280.2" stroke="#7a7a7a" stroke-width="0.8"/>
<text x="327.5" y="286.7" font-size="6.85" text-anchor="end" fill="#2b2b2b" transform="rotate(-45 327.5 286.7)">Palmitoyl-<tspan font-size="4.6">DL</tspan>-carnitine</text>
<text x="326.15" y="193.9" font-size="6.5" text-anchor="start" fill="#2b2b2b" transform="rotate(-90 326.15 193.9)"><tspan font-style="italic">P</tspan> = 9.3 × 10<tspan font-size="4.6" dy="-2.9">−4</tspan></text>
<line x1="321.2" y1="196.5" x2="327.6" y2="196.5" stroke="#333" stroke-width="0.7"/>
<rect x="334.12" y="248.2" width="3.8" height="29.4" fill="#5a5e61"/>
<line x1="336.02" y1="245.57" x2="336.02" y2="248.2" stroke="#333" stroke-width="0.7"/>
<line x1="334.62" y1="245.57" x2="337.42" y2="245.57" stroke="#333" stroke-width="0.7"/>
<rect x="339.32" y="259.3" width="3.9" height="18.3" fill="#981526"/>
<line x1="341.27" y1="257.84" x2="341.27" y2="259.3" stroke="#333" stroke-width="0.7"/>
<line x1="339.87" y1="257.84" x2="342.67" y2="257.84" stroke="#333" stroke-width="0.7"/>
<circle cx="336.02" cy="239" r="1.3" fill="#1a1a1a"/>
<circle cx="336.02" cy="241" r="1.3" fill="#1a1a1a"/>
<circle cx="336.02" cy="243.6" r="1.3" fill="#1a1a1a"/>
<circle cx="335.96" cy="253.69" r="1.25" fill="#1a1a1a"/>
<circle cx="336.36" cy="248.74" r="1.25" fill="#1a1a1a"/>
<circle cx="335.62" cy="264.09" r="1.25" fill="#1a1a1a"/>
<circle cx="336.32" cy="264.94" r="1.25" fill="#1a1a1a"/>
<circle cx="335.97" cy="264.23" r="1.25" fill="#1a1a1a"/>
<circle cx="336.36" cy="250.03" r="1.25" fill="#1a1a1a"/>
<circle cx="336.22" cy="262.02" r="1.25" fill="#1a1a1a"/>
<circle cx="336.15" cy="255.82" r="1.25" fill="#1a1a1a"/>
<circle cx="335.85" cy="252.35" r="1.25" fill="#1a1a1a"/>
<circle cx="341.27" cy="255.3" r="1.3" fill="#1a1a1a"/>
<circle cx="341.27" cy="258.3" r="1.3" fill="#1a1a1a"/>
<circle cx="341.05" cy="257.11" r="1.25" fill="#1a1a1a"/>
<circle cx="341.34" cy="259.74" r="1.25" fill="#1a1a1a"/>
<circle cx="341.52" cy="256.84" r="1.25" fill="#1a1a1a"/>
<circle cx="341.59" cy="264.62" r="1.25" fill="#1a1a1a"/>
<circle cx="341.61" cy="267.05" r="1.25" fill="#1a1a1a"/>
<circle cx="341.59" cy="263.22" r="1.25" fill="#1a1a1a"/>
<line x1="338.62" y1="277.4" x2="338.62" y2="280.2" stroke="#7a7a7a" stroke-width="0.8"/>
<text x="341.72" y="286.7" font-size="6.85" text-anchor="end" fill="#2b2b2b" transform="rotate(-45 341.72 286.7)">Glutaryl-<tspan font-size="4.6">L</tspan>-carnitine</text>
<text x="340.37" y="193.9" font-size="6.5" text-anchor="start" fill="#2b2b2b" transform="rotate(-90 340.37 193.9)"><tspan font-style="italic">P</tspan> = 1.0 × 10<tspan font-size="4.6" dy="-2.9">−5</tspan></text>
<line x1="335.42" y1="196.5" x2="341.82" y2="196.5" stroke="#333" stroke-width="0.7"/>
<rect x="348.34" y="248.2" width="3.8" height="29.4" fill="#5a5e61"/>
<line x1="350.24" y1="245.86" x2="350.24" y2="248.2" stroke="#333" stroke-width="0.7"/>
<line x1="348.84" y1="245.86" x2="351.64" y2="245.86" stroke="#333" stroke-width="0.7"/>
<rect x="353.54" y="258.42" width="3.9" height="19.18" fill="#981526"/>
<line x1="355.49" y1="256.96" x2="355.49" y2="258.42" stroke="#333" stroke-width="0.7"/>
<line x1="354.09" y1="256.96" x2="356.89" y2="256.96" stroke="#333" stroke-width="0.7"/>
<circle cx="350.24" cy="235" r="1.3" fill="#1a1a1a"/>
<circle cx="350.24" cy="236.6" r="1.3" fill="#1a1a1a"/>
<circle cx="349.85" cy="260.23" r="1.25" fill="#1a1a1a"/>
<circle cx="349.98" cy="251.55" r="1.25" fill="#1a1a1a"/>
<circle cx="350.37" cy="255.94" r="1.25" fill="#1a1a1a"/>
<circle cx="350.17" cy="264.01" r="1.25" fill="#1a1a1a"/>
<circle cx="350.33" cy="252.36" r="1.25" fill="#1a1a1a"/>
<circle cx="350.04" cy="262.5" r="1.25" fill="#1a1a1a"/>
<circle cx="350.22" cy="260.96" r="1.25" fill="#1a1a1a"/>
<circle cx="350.12" cy="249.55" r="1.25" fill="#1a1a1a"/>
<circle cx="350.27" cy="261.63" r="1.25" fill="#1a1a1a"/>
<circle cx="355.49" cy="255.3" r="1.3" fill="#1a1a1a"/>
<circle cx="355.49" cy="257.6" r="1.3" fill="#1a1a1a"/>
<circle cx="355.23" cy="264.92" r="1.25" fill="#1a1a1a"/>
<circle cx="355.83" cy="265.09" r="1.25" fill="#1a1a1a"/>
<circle cx="355.75" cy="255.51" r="1.25" fill="#1a1a1a"/>
<circle cx="355.59" cy="265.77" r="1.25" fill="#1a1a1a"/>
<circle cx="355.13" cy="258.68" r="1.25" fill="#1a1a1a"/>
<circle cx="355.3" cy="261.75" r="1.25" fill="#1a1a1a"/>
<line x1="352.84" y1="277.4" x2="352.84" y2="280.2" stroke="#7a7a7a" stroke-width="0.8"/>
<text x="355.94" y="286.7" font-size="6.85" text-anchor="end" fill="#2b2b2b" transform="rotate(-45 355.94 286.7)">Octadecanoyl-carnitine</text>
<text x="354.59" y="193.9" font-size="6.5" text-anchor="start" fill="#2b2b2b" transform="rotate(-90 354.59 193.9)"><tspan font-style="italic">P</tspan> = 3.9 × 10<tspan font-size="4.6" dy="-2.9">−4</tspan></text>
<line x1="349.64" y1="196.5" x2="356.04" y2="196.5" stroke="#333" stroke-width="0.7"/>
<rect x="362.56" y="248.2" width="3.8" height="29.4" fill="#5a5e61"/>
<line x1="364.46" y1="245.57" x2="364.46" y2="248.2" stroke="#333" stroke-width="0.7"/>
<line x1="363.06" y1="245.57" x2="365.86" y2="245.57" stroke="#333" stroke-width="0.7"/>
<rect x="367.76" y="257.25" width="3.9" height="20.35" fill="#981526"/>
<line x1="369.71" y1="255.79" x2="369.71" y2="257.25" stroke="#333" stroke-width="0.7"/>
<line x1="368.31" y1="255.79" x2="371.11" y2="255.79" stroke="#333" stroke-width="0.7"/>
<circle cx="364.46" cy="227.9" r="1.3" fill="#1a1a1a"/>
<circle cx="364.46" cy="238.6" r="1.3" fill="#1a1a1a"/>
<circle cx="364.4" cy="254.92" r="1.25" fill="#1a1a1a"/>
<circle cx="364.68" cy="245.74" r="1.25" fill="#1a1a1a"/>
<circle cx="364.1" cy="248.17" r="1.25" fill="#1a1a1a"/>
<circle cx="364.16" cy="247.03" r="1.25" fill="#1a1a1a"/>
<circle cx="364.84" cy="262.36" r="1.25" fill="#1a1a1a"/>
<circle cx="364.13" cy="255.49" r="1.25" fill="#1a1a1a"/>
<circle cx="364.31" cy="251.83" r="1.25" fill="#1a1a1a"/>
<circle cx="364.34" cy="258.31" r="1.25" fill="#1a1a1a"/>
<circle cx="364.53" cy="252.74" r="1.25" fill="#1a1a1a"/>
<circle cx="369.71" cy="245.3" r="1.3" fill="#1a1a1a"/>
<circle cx="369.71" cy="247.3" r="1.3" fill="#1a1a1a"/>
<circle cx="369.71" cy="254.2" r="1.3" fill="#1a1a1a"/>
<circle cx="369.46" cy="258.2" r="1.25" fill="#1a1a1a"/>
<circle cx="369.41" cy="260.92" r="1.25" fill="#1a1a1a"/>
<circle cx="369.88" cy="258.81" r="1.25" fill="#1a1a1a"/>
<circle cx="369.37" cy="256.39" r="1.25" fill="#1a1a1a"/>
<circle cx="369.61" cy="261.51" r="1.25" fill="#1a1a1a"/>
<circle cx="369.94" cy="258.82" r="1.25" fill="#1a1a1a"/>
<line x1="367.06" y1="277.4" x2="367.06" y2="280.2" stroke="#7a7a7a" stroke-width="0.8"/>
<text x="370.16" y="286.7" font-size="6.85" text-anchor="end" fill="#2b2b2b" transform="rotate(-45 370.16 286.7)">Isovaleryl-carnitine</text>
<text x="368.81" y="193.9" font-size="6.5" text-anchor="start" fill="#2b2b2b" transform="rotate(-90 368.81 193.9)"><tspan font-style="italic">P</tspan> = 0.026</text>
<line x1="363.86" y1="196.5" x2="370.26" y2="196.5" stroke="#333" stroke-width="0.7"/>
<rect x="376.78" y="248.2" width="3.8" height="29.4" fill="#5a5e61"/>
<line x1="378.68" y1="245.86" x2="378.68" y2="248.2" stroke="#333" stroke-width="0.7"/>
<line x1="377.28" y1="245.86" x2="380.08" y2="245.86" stroke="#333" stroke-width="0.7"/>
<rect x="381.98" y="256.08" width="3.9" height="21.52" fill="#981526"/>
<line x1="383.93" y1="254.33" x2="383.93" y2="256.08" stroke="#333" stroke-width="0.7"/>
<line x1="382.53" y1="254.33" x2="385.33" y2="254.33" stroke="#333" stroke-width="0.7"/>
<circle cx="378.68" cy="236" r="1.3" fill="#1a1a1a"/>
<circle cx="378.68" cy="240" r="1.3" fill="#1a1a1a"/>
<circle cx="378.68" cy="242" r="1.3" fill="#1a1a1a"/>
<circle cx="378.92" cy="257.85" r="1.25" fill="#1a1a1a"/>
<circle cx="378.63" cy="252.96" r="1.25" fill="#1a1a1a"/>
<circle cx="378.68" cy="259.41" r="1.25" fill="#1a1a1a"/>
<circle cx="378.62" cy="259.24" r="1.25" fill="#1a1a1a"/>
<circle cx="378.65" cy="250.48" r="1.25" fill="#1a1a1a"/>
<circle cx="378.71" cy="259.26" r="1.25" fill="#1a1a1a"/>
<circle cx="378.34" cy="253.99" r="1.25" fill="#1a1a1a"/>
<circle cx="378.62" cy="262.85" r="1.25" fill="#1a1a1a"/>
<circle cx="379.03" cy="253" r="1.25" fill="#1a1a1a"/>
<circle cx="383.93" cy="246.8" r="1.3" fill="#1a1a1a"/>
<circle cx="383.93" cy="252.2" r="1.3" fill="#1a1a1a"/>
<circle cx="384.25" cy="262.58" r="1.25" fill="#1a1a1a"/>
<circle cx="383.74" cy="258.65" r="1.25" fill="#1a1a1a"/>
<circle cx="383.63" cy="262.84" r="1.25" fill="#1a1a1a"/>
<circle cx="384.06" cy="263.73" r="1.25" fill="#1a1a1a"/>
<circle cx="384.16" cy="261.09" r="1.25" fill="#1a1a1a"/>
<circle cx="384.12" cy="259.85" r="1.25" fill="#1a1a1a"/>
<line x1="381.28" y1="277.4" x2="381.28" y2="280.2" stroke="#7a7a7a" stroke-width="0.8"/>
<text x="384.38" y="286.7" font-size="6.85" text-anchor="end" fill="#2b2b2b" transform="rotate(-45 384.38 286.7)"><tspan font-size="4.6">L</tspan>-carnitine</text>
<text x="383.03" y="193.9" font-size="6.5" text-anchor="start" fill="#2b2b2b" transform="rotate(-90 383.03 193.9)"><tspan font-style="italic">P</tspan> = 0.0015</text>
<line x1="378.08" y1="196.5" x2="384.48" y2="196.5" stroke="#333" stroke-width="0.7"/>
<rect x="391" y="248.2" width="3.8" height="29.4" fill="#5a5e61"/>
<line x1="392.9" y1="245.57" x2="392.9" y2="248.2" stroke="#333" stroke-width="0.7"/>
<line x1="391.5" y1="245.57" x2="394.3" y2="245.57" stroke="#333" stroke-width="0.7"/>
<rect x="396.2" y="256.08" width="3.9" height="21.52" fill="#981526"/>
<line x1="398.15" y1="254.33" x2="398.15" y2="256.08" stroke="#333" stroke-width="0.7"/>
<line x1="396.75" y1="254.33" x2="399.55" y2="254.33" stroke="#333" stroke-width="0.7"/>
<circle cx="392.9" cy="241.8" r="1.3" fill="#1a1a1a"/>
<circle cx="392.9" cy="243.5" r="1.3" fill="#1a1a1a"/>
<circle cx="392.58" cy="257.16" r="1.25" fill="#1a1a1a"/>
<circle cx="392.5" cy="248.5" r="1.25" fill="#1a1a1a"/>
<circle cx="393.12" cy="246.56" r="1.25" fill="#1a1a1a"/>
<circle cx="392.57" cy="247.64" r="1.25" fill="#1a1a1a"/>
<circle cx="393.2" cy="249.19" r="1.25" fill="#1a1a1a"/>
<circle cx="392.52" cy="262.11" r="1.25" fill="#1a1a1a"/>
<circle cx="392.6" cy="262.16" r="1.25" fill="#1a1a1a"/>
<circle cx="393.04" cy="262.01" r="1.25" fill="#1a1a1a"/>
<circle cx="393.26" cy="256.99" r="1.25" fill="#1a1a1a"/>
<circle cx="398.15" cy="234.8" r="1.3" fill="#1a1a1a"/>
<circle cx="398.15" cy="238.6" r="1.3" fill="#1a1a1a"/>
<circle cx="398.39" cy="253.52" r="1.25" fill="#1a1a1a"/>
<circle cx="398.36" cy="259.22" r="1.25" fill="#1a1a1a"/>
<circle cx="398.32" cy="254.36" r="1.25" fill="#1a1a1a"/>
<circle cx="398.35" cy="264.3" r="1.25" fill="#1a1a1a"/>
<circle cx="397.8" cy="256.97" r="1.25" fill="#1a1a1a"/>
<circle cx="398.2" cy="263.02" r="1.25" fill="#1a1a1a"/>
<line x1="395.5" y1="277.4" x2="395.5" y2="280.2" stroke="#7a7a7a" stroke-width="0.8"/>
<text x="398.6" y="286.7" font-size="6.85" text-anchor="end" fill="#2b2b2b" transform="rotate(-45 398.6 286.7)">Butyryl-carnitine</text>
<rect x="405.22" y="248.2" width="3.8" height="29.4" fill="#5a5e61"/>
<line x1="407.12" y1="245.28" x2="407.12" y2="248.2" stroke="#333" stroke-width="0.7"/>
<line x1="405.72" y1="245.28" x2="408.52" y2="245.28" stroke="#333" stroke-width="0.7"/>
<rect x="410.42" y="251.12" width="3.9" height="26.48" fill="#981526"/>
<line x1="412.37" y1="248.2" x2="412.37" y2="251.12" stroke="#333" stroke-width="0.7"/>
<line x1="410.97" y1="248.2" x2="413.77" y2="248.2" stroke="#333" stroke-width="0.7"/>
<circle cx="407.12" cy="221.9" r="1.3" fill="#1a1a1a"/>
<circle cx="407.12" cy="237.3" r="1.3" fill="#1a1a1a"/>
<circle cx="406.91" cy="249.21" r="1.25" fill="#1a1a1a"/>
<circle cx="406.92" cy="257.71" r="1.25" fill="#1a1a1a"/>
<circle cx="407.32" cy="253.38" r="1.25" fill="#1a1a1a"/>
<circle cx="407.01" cy="253.43" r="1.25" fill="#1a1a1a"/>
<circle cx="407" cy="253.86" r="1.25" fill="#1a1a1a"/>
<circle cx="406.79" cy="255.46" r="1.25" fill="#1a1a1a"/>
<circle cx="407.5" cy="253.75" r="1.25" fill="#1a1a1a"/>
<circle cx="407.32" cy="248.83" r="1.25" fill="#1a1a1a"/>
<circle cx="407.27" cy="260.44" r="1.25" fill="#1a1a1a"/>
<circle cx="412.37" cy="195.2" r="1.3" fill="#1a1a1a"/>
<circle cx="412.37" cy="244.8" r="1.3" fill="#1a1a1a"/>
<circle cx="412.51" cy="254.33" r="1.25" fill="#1a1a1a"/>
<circle cx="412.36" cy="255.84" r="1.25" fill="#1a1a1a"/>
<circle cx="412.69" cy="249.91" r="1.25" fill="#1a1a1a"/>
<circle cx="412.05" cy="257.1" r="1.25" fill="#1a1a1a"/>
<circle cx="412.7" cy="254.33" r="1.25" fill="#1a1a1a"/>
<circle cx="412.32" cy="256.75" r="1.25" fill="#1a1a1a"/>
<line x1="409.72" y1="277.4" x2="409.72" y2="280.2" stroke="#7a7a7a" stroke-width="0.8"/>
<text x="412.82" y="286.7" font-size="6.85" text-anchor="end" fill="#2b2b2b" transform="rotate(-45 412.82 286.7)">Propionyl-carnitine</text>
<text x="221.58" y="265.65" font-size="6.6" text-anchor="start" fill="#2b2b2b" transform="rotate(-90 221.58 265.65)" textLength="63.8" lengthAdjust="spacingAndGlyphs">Metabolite abundance</text>
<text x="229.48" y="251.15" font-size="6.6" text-anchor="start" fill="#2b2b2b" transform="rotate(-90 229.48 251.15)" textLength="40.1" lengthAdjust="spacingAndGlyphs">(relative to scr)</text>
<rect x="419" y="161.9" width="9.9" height="5.1" fill="#5a5e61"/>
<rect x="419" y="173" width="9.9" height="5.3" fill="#981526"/>
<text x="431.8" y="167" font-size="6.8" text-anchor="start" fill="#2b2b2b">scr</text>
<text x="431.8" y="178.3" font-size="6.8" text-anchor="start" fill="#2b2b2b">LRRC58<tspan font-size="4.6" dy="-2.6">KD</tspan></text>
</svg></body></html>
